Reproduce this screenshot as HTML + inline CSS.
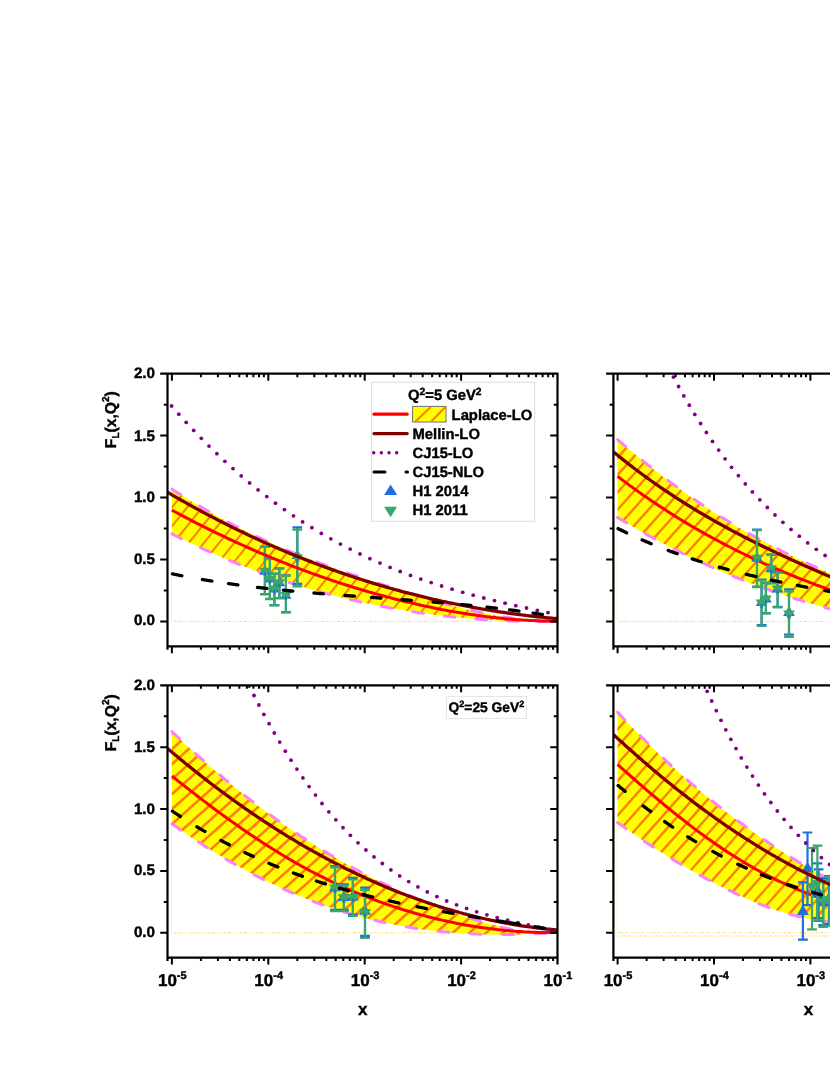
<!DOCTYPE html>
<html><head><meta charset="utf-8"><title>FL</title>
<style>html,body{margin:0;padding:0;background:#fff;}body{width:830px;height:1075px;overflow:hidden;}svg{display:block;will-change:transform;}text{text-rendering:geometricPrecision;font-family:"Liberation Sans", sans-serif;font-weight:bold;fill:#000;stroke:#000;stroke-width:0.4px;}</style>
</head><body>
<svg width="830" height="1075" viewBox="0 0 830 1075">
<defs>
<clipPath id="cp00"><rect x="167.5" y="373.7" width="390.0" height="272.6"/></clipPath>
<clipPath id="cp01"><rect x="167.5" y="685.3" width="390.0" height="272.3"/></clipPath>
<clipPath id="cp10"><rect x="613.4" y="373.7" width="389.8" height="272.6"/></clipPath>
<clipPath id="cp11"><rect x="613.4" y="685.3" width="389.8" height="272.3"/></clipPath>
</defs>
<rect width="830" height="1075" fill="#fff"/>
<g clip-path="url(#cp00)">
<path d="M171.5 533.9 V621.4 H557.5" fill="none" stroke="#fff5b8" stroke-width="1"/>
<path d="M174.9 621.4 H557.5" fill="none" stroke="#ffb060" stroke-width="1" stroke-dasharray="1.2 3.6 1.2 10.3" stroke-opacity="0.8"/>
<clipPath id="band00"><path d="M171.9 489.1 L173.9 490.4 L175.9 491.7 L177.9 492.9 L179.9 494.2 L181.9 495.5 L184.0 496.7 L186.0 498.0 L188.0 499.2 L190.0 500.4 L192.0 501.7 L194.0 502.9 L196.0 504.1 L198.0 505.3 L200.0 506.4 L202.0 507.6 L204.0 508.8 L206.0 509.9 L208.1 511.1 L210.1 512.2 L212.1 513.4 L214.1 514.5 L216.1 515.6 L218.1 516.7 L220.1 517.8 L222.1 518.9 L224.1 520.0 L226.1 521.1 L228.1 522.1 L230.1 523.2 L232.2 524.2 L234.2 525.3 L236.2 526.3 L238.2 527.3 L240.2 528.4 L242.2 529.4 L244.2 530.4 L246.2 531.4 L248.2 532.4 L250.2 533.3 L252.2 534.3 L254.2 535.3 L256.2 536.2 L258.3 537.2 L260.3 538.1 L262.3 539.1 L264.3 540.0 L266.3 540.9 L268.3 541.8 L270.3 542.7 L272.3 543.6 L274.3 544.5 L276.3 545.4 L278.3 546.3 L280.4 547.2 L282.4 548.0 L284.4 548.9 L286.4 549.8 L288.4 550.6 L290.4 551.4 L292.4 552.3 L294.4 553.1 L296.4 553.9 L298.4 554.7 L300.4 555.5 L302.4 556.3 L304.5 557.1 L306.5 557.9 L308.5 558.7 L310.5 559.5 L312.5 560.3 L314.5 561.0 L316.5 561.8 L318.5 562.5 L320.5 563.3 L322.5 564.0 L324.5 564.8 L326.5 565.5 L328.6 566.2 L330.6 567.0 L332.6 567.7 L334.6 568.4 L336.6 569.1 L338.6 569.8 L340.6 570.5 L342.6 571.2 L344.6 571.9 L346.6 572.6 L348.6 573.3 L350.6 574.0 L352.6 574.7 L354.7 575.3 L356.7 576.0 L358.7 576.7 L360.7 577.4 L362.7 578.0 L364.7 578.7 L366.7 579.4 L368.7 580.0 L370.7 580.7 L372.7 581.3 L374.7 582.0 L376.8 582.7 L378.8 583.3 L380.8 584.0 L382.8 584.6 L384.8 585.3 L386.8 585.9 L388.8 586.6 L390.8 587.2 L392.8 587.9 L394.8 588.5 L396.8 589.2 L398.8 589.8 L400.9 590.4 L402.9 591.1 L404.9 591.7 L406.9 592.3 L408.9 593.0 L410.9 593.6 L412.9 594.2 L414.9 594.8 L416.9 595.5 L418.9 596.1 L420.9 596.7 L422.9 597.3 L424.9 597.9 L427.0 598.5 L429.0 599.1 L431.0 599.7 L433.0 600.3 L435.0 600.8 L437.0 601.4 L439.0 602.0 L441.0 602.6 L443.0 603.1 L445.0 603.7 L447.0 604.2 L449.0 604.8 L451.1 605.3 L453.1 605.9 L455.1 606.4 L457.1 606.9 L459.1 607.4 L461.1 607.9 L463.1 608.4 L465.1 608.9 L467.1 609.4 L469.1 609.9 L471.1 610.4 L473.1 610.8 L475.2 611.3 L477.2 611.8 L479.2 612.2 L481.2 612.6 L483.2 613.1 L485.2 613.5 L487.2 613.9 L489.2 614.3 L491.2 614.7 L493.2 615.1 L495.2 615.4 L497.2 615.8 L499.3 616.2 L501.3 616.5 L503.3 616.9 L505.3 617.2 L507.3 617.5 L509.3 617.8 L511.3 618.1 L513.3 618.4 L515.3 618.7 L517.3 618.9 L519.3 619.2 L521.4 619.4 L523.4 619.7 L525.4 619.9 L527.4 620.1 L529.4 620.3 L531.4 620.5 L533.4 620.7 L535.4 620.8 L537.4 621.0 L539.4 621.1 L541.4 621.3 L543.4 621.4 L545.5 621.5 L547.5 621.6 L549.5 621.6 L551.5 621.7 L553.5 621.7 L555.5 621.8 L557.5 621.8 L557.5 621.4 L555.5 621.4 L553.5 621.4 L551.5 621.5 L549.5 621.5 L547.5 621.5 L545.5 621.5 L543.4 621.5 L541.4 621.5 L539.4 621.5 L537.4 621.5 L535.4 621.5 L533.4 621.5 L531.4 621.5 L529.4 621.5 L527.4 621.4 L525.4 621.4 L523.4 621.4 L521.4 621.3 L519.3 621.3 L517.3 621.2 L515.3 621.2 L513.3 621.1 L511.3 621.0 L509.3 621.0 L507.3 620.9 L505.3 620.8 L503.3 620.7 L501.3 620.6 L499.3 620.5 L497.2 620.4 L495.2 620.3 L493.2 620.2 L491.2 620.1 L489.2 620.0 L487.2 619.8 L485.2 619.7 L483.2 619.6 L481.2 619.4 L479.2 619.3 L477.2 619.2 L475.2 619.0 L473.1 618.8 L471.1 618.7 L469.1 618.5 L467.1 618.3 L465.1 618.2 L463.1 618.0 L461.1 617.8 L459.1 617.6 L457.1 617.4 L455.1 617.2 L453.1 617.0 L451.1 616.8 L449.0 616.5 L447.0 616.3 L445.0 616.1 L443.0 615.9 L441.0 615.6 L439.0 615.4 L437.0 615.1 L435.0 614.9 L433.0 614.6 L431.0 614.4 L429.0 614.1 L427.0 613.8 L424.9 613.5 L422.9 613.3 L420.9 613.0 L418.9 612.7 L416.9 612.4 L414.9 612.1 L412.9 611.8 L410.9 611.4 L408.9 611.1 L406.9 610.8 L404.9 610.5 L402.9 610.1 L400.9 609.8 L398.8 609.5 L396.8 609.1 L394.8 608.8 L392.8 608.4 L390.8 608.0 L388.8 607.7 L386.8 607.3 L384.8 606.9 L382.8 606.5 L380.8 606.1 L378.8 605.7 L376.8 605.3 L374.7 604.9 L372.7 604.5 L370.7 604.1 L368.7 603.7 L366.7 603.3 L364.7 602.8 L362.7 602.4 L360.7 602.0 L358.7 601.5 L356.7 601.0 L354.7 600.6 L352.6 600.1 L350.6 599.7 L348.6 599.2 L346.6 598.7 L344.6 598.2 L342.6 597.7 L340.6 597.2 L338.6 596.7 L336.6 596.2 L334.6 595.7 L332.6 595.2 L330.6 594.7 L328.6 594.1 L326.5 593.6 L324.5 593.0 L322.5 592.5 L320.5 591.9 L318.5 591.4 L316.5 590.8 L314.5 590.2 L312.5 589.7 L310.5 589.1 L308.5 588.5 L306.5 587.9 L304.5 587.3 L302.4 586.7 L300.4 586.1 L298.4 585.4 L296.4 584.8 L294.4 584.2 L292.4 583.5 L290.4 582.9 L288.4 582.2 L286.4 581.6 L284.4 580.9 L282.4 580.3 L280.4 579.6 L278.3 578.9 L276.3 578.2 L274.3 577.5 L272.3 576.8 L270.3 576.1 L268.3 575.4 L266.3 574.7 L264.3 574.0 L262.3 573.2 L260.3 572.5 L258.3 571.7 L256.2 571.0 L254.2 570.2 L252.2 569.5 L250.2 568.7 L248.2 567.9 L246.2 567.1 L244.2 566.4 L242.2 565.6 L240.2 564.8 L238.2 564.0 L236.2 563.1 L234.2 562.3 L232.2 561.5 L230.1 560.7 L228.1 559.8 L226.1 559.0 L224.1 558.1 L222.1 557.3 L220.1 556.4 L218.1 555.5 L216.1 554.7 L214.1 553.8 L212.1 552.9 L210.1 552.0 L208.1 551.1 L206.0 550.2 L204.0 549.3 L202.0 548.4 L200.0 547.5 L198.0 546.5 L196.0 545.6 L194.0 544.6 L192.0 543.7 L190.0 542.7 L188.0 541.8 L186.0 540.8 L184.0 539.9 L181.9 538.9 L179.9 537.9 L177.9 536.9 L175.9 535.9 L173.9 534.9 L171.9 533.9 Z"/></clipPath>
<path d="M171.9 489.1 L173.9 490.4 L175.9 491.7 L177.9 492.9 L179.9 494.2 L181.9 495.5 L184.0 496.7 L186.0 498.0 L188.0 499.2 L190.0 500.4 L192.0 501.7 L194.0 502.9 L196.0 504.1 L198.0 505.3 L200.0 506.4 L202.0 507.6 L204.0 508.8 L206.0 509.9 L208.1 511.1 L210.1 512.2 L212.1 513.4 L214.1 514.5 L216.1 515.6 L218.1 516.7 L220.1 517.8 L222.1 518.9 L224.1 520.0 L226.1 521.1 L228.1 522.1 L230.1 523.2 L232.2 524.2 L234.2 525.3 L236.2 526.3 L238.2 527.3 L240.2 528.4 L242.2 529.4 L244.2 530.4 L246.2 531.4 L248.2 532.4 L250.2 533.3 L252.2 534.3 L254.2 535.3 L256.2 536.2 L258.3 537.2 L260.3 538.1 L262.3 539.1 L264.3 540.0 L266.3 540.9 L268.3 541.8 L270.3 542.7 L272.3 543.6 L274.3 544.5 L276.3 545.4 L278.3 546.3 L280.4 547.2 L282.4 548.0 L284.4 548.9 L286.4 549.8 L288.4 550.6 L290.4 551.4 L292.4 552.3 L294.4 553.1 L296.4 553.9 L298.4 554.7 L300.4 555.5 L302.4 556.3 L304.5 557.1 L306.5 557.9 L308.5 558.7 L310.5 559.5 L312.5 560.3 L314.5 561.0 L316.5 561.8 L318.5 562.5 L320.5 563.3 L322.5 564.0 L324.5 564.8 L326.5 565.5 L328.6 566.2 L330.6 567.0 L332.6 567.7 L334.6 568.4 L336.6 569.1 L338.6 569.8 L340.6 570.5 L342.6 571.2 L344.6 571.9 L346.6 572.6 L348.6 573.3 L350.6 574.0 L352.6 574.7 L354.7 575.3 L356.7 576.0 L358.7 576.7 L360.7 577.4 L362.7 578.0 L364.7 578.7 L366.7 579.4 L368.7 580.0 L370.7 580.7 L372.7 581.3 L374.7 582.0 L376.8 582.7 L378.8 583.3 L380.8 584.0 L382.8 584.6 L384.8 585.3 L386.8 585.9 L388.8 586.6 L390.8 587.2 L392.8 587.9 L394.8 588.5 L396.8 589.2 L398.8 589.8 L400.9 590.4 L402.9 591.1 L404.9 591.7 L406.9 592.3 L408.9 593.0 L410.9 593.6 L412.9 594.2 L414.9 594.8 L416.9 595.5 L418.9 596.1 L420.9 596.7 L422.9 597.3 L424.9 597.9 L427.0 598.5 L429.0 599.1 L431.0 599.7 L433.0 600.3 L435.0 600.8 L437.0 601.4 L439.0 602.0 L441.0 602.6 L443.0 603.1 L445.0 603.7 L447.0 604.2 L449.0 604.8 L451.1 605.3 L453.1 605.9 L455.1 606.4 L457.1 606.9 L459.1 607.4 L461.1 607.9 L463.1 608.4 L465.1 608.9 L467.1 609.4 L469.1 609.9 L471.1 610.4 L473.1 610.8 L475.2 611.3 L477.2 611.8 L479.2 612.2 L481.2 612.6 L483.2 613.1 L485.2 613.5 L487.2 613.9 L489.2 614.3 L491.2 614.7 L493.2 615.1 L495.2 615.4 L497.2 615.8 L499.3 616.2 L501.3 616.5 L503.3 616.9 L505.3 617.2 L507.3 617.5 L509.3 617.8 L511.3 618.1 L513.3 618.4 L515.3 618.7 L517.3 618.9 L519.3 619.2 L521.4 619.4 L523.4 619.7 L525.4 619.9 L527.4 620.1 L529.4 620.3 L531.4 620.5 L533.4 620.7 L535.4 620.8 L537.4 621.0 L539.4 621.1 L541.4 621.3 L543.4 621.4 L545.5 621.5 L547.5 621.6 L549.5 621.6 L551.5 621.7 L553.5 621.7 L555.5 621.8 L557.5 621.8 L557.5 621.4 L555.5 621.4 L553.5 621.4 L551.5 621.5 L549.5 621.5 L547.5 621.5 L545.5 621.5 L543.4 621.5 L541.4 621.5 L539.4 621.5 L537.4 621.5 L535.4 621.5 L533.4 621.5 L531.4 621.5 L529.4 621.5 L527.4 621.4 L525.4 621.4 L523.4 621.4 L521.4 621.3 L519.3 621.3 L517.3 621.2 L515.3 621.2 L513.3 621.1 L511.3 621.0 L509.3 621.0 L507.3 620.9 L505.3 620.8 L503.3 620.7 L501.3 620.6 L499.3 620.5 L497.2 620.4 L495.2 620.3 L493.2 620.2 L491.2 620.1 L489.2 620.0 L487.2 619.8 L485.2 619.7 L483.2 619.6 L481.2 619.4 L479.2 619.3 L477.2 619.2 L475.2 619.0 L473.1 618.8 L471.1 618.7 L469.1 618.5 L467.1 618.3 L465.1 618.2 L463.1 618.0 L461.1 617.8 L459.1 617.6 L457.1 617.4 L455.1 617.2 L453.1 617.0 L451.1 616.8 L449.0 616.5 L447.0 616.3 L445.0 616.1 L443.0 615.9 L441.0 615.6 L439.0 615.4 L437.0 615.1 L435.0 614.9 L433.0 614.6 L431.0 614.4 L429.0 614.1 L427.0 613.8 L424.9 613.5 L422.9 613.3 L420.9 613.0 L418.9 612.7 L416.9 612.4 L414.9 612.1 L412.9 611.8 L410.9 611.4 L408.9 611.1 L406.9 610.8 L404.9 610.5 L402.9 610.1 L400.9 609.8 L398.8 609.5 L396.8 609.1 L394.8 608.8 L392.8 608.4 L390.8 608.0 L388.8 607.7 L386.8 607.3 L384.8 606.9 L382.8 606.5 L380.8 606.1 L378.8 605.7 L376.8 605.3 L374.7 604.9 L372.7 604.5 L370.7 604.1 L368.7 603.7 L366.7 603.3 L364.7 602.8 L362.7 602.4 L360.7 602.0 L358.7 601.5 L356.7 601.0 L354.7 600.6 L352.6 600.1 L350.6 599.7 L348.6 599.2 L346.6 598.7 L344.6 598.2 L342.6 597.7 L340.6 597.2 L338.6 596.7 L336.6 596.2 L334.6 595.7 L332.6 595.2 L330.6 594.7 L328.6 594.1 L326.5 593.6 L324.5 593.0 L322.5 592.5 L320.5 591.9 L318.5 591.4 L316.5 590.8 L314.5 590.2 L312.5 589.7 L310.5 589.1 L308.5 588.5 L306.5 587.9 L304.5 587.3 L302.4 586.7 L300.4 586.1 L298.4 585.4 L296.4 584.8 L294.4 584.2 L292.4 583.5 L290.4 582.9 L288.4 582.2 L286.4 581.6 L284.4 580.9 L282.4 580.3 L280.4 579.6 L278.3 578.9 L276.3 578.2 L274.3 577.5 L272.3 576.8 L270.3 576.1 L268.3 575.4 L266.3 574.7 L264.3 574.0 L262.3 573.2 L260.3 572.5 L258.3 571.7 L256.2 571.0 L254.2 570.2 L252.2 569.5 L250.2 568.7 L248.2 567.9 L246.2 567.1 L244.2 566.4 L242.2 565.6 L240.2 564.8 L238.2 564.0 L236.2 563.1 L234.2 562.3 L232.2 561.5 L230.1 560.7 L228.1 559.8 L226.1 559.0 L224.1 558.1 L222.1 557.3 L220.1 556.4 L218.1 555.5 L216.1 554.7 L214.1 553.8 L212.1 552.9 L210.1 552.0 L208.1 551.1 L206.0 550.2 L204.0 549.3 L202.0 548.4 L200.0 547.5 L198.0 546.5 L196.0 545.6 L194.0 544.6 L192.0 543.7 L190.0 542.7 L188.0 541.8 L186.0 540.8 L184.0 539.9 L181.9 538.9 L179.9 537.9 L177.9 536.9 L175.9 535.9 L173.9 534.9 L171.9 533.9 Z" fill="#ffff00"/>
<path d="M162.5 387.5 L562.5 -108.5 M162.5 406.3 L562.5 -89.7 M162.5 425.1 L562.5 -70.9 M162.5 443.9 L562.5 -52.1 M162.5 462.7 L562.5 -33.3 M162.5 481.5 L562.5 -14.5 M162.5 500.3 L562.5 4.3 M162.5 519.1 L562.5 23.1 M162.5 537.9 L562.5 41.9 M162.5 556.7 L562.5 60.7 M162.5 575.5 L562.5 79.5 M162.5 594.3 L562.5 98.3 M162.5 613.1 L562.5 117.1 M162.5 631.9 L562.5 135.9 M162.5 650.7 L562.5 154.7 M162.5 669.5 L562.5 173.5 M162.5 688.3 L562.5 192.3 M162.5 707.1 L562.5 211.1 M162.5 725.9 L562.5 229.9 M162.5 744.7 L562.5 248.7 M162.5 763.5 L562.5 267.5 M162.5 782.3 L562.5 286.3 M162.5 801.1 L562.5 305.1 M162.5 819.9 L562.5 323.9 M162.5 838.7 L562.5 342.7 M162.5 857.5 L562.5 361.5 M162.5 876.3 L562.5 380.3 M162.5 895.1 L562.5 399.1 M162.5 913.9 L562.5 417.9 M162.5 932.7 L562.5 436.7 M162.5 951.5 L562.5 455.5 M162.5 970.3 L562.5 474.3 M162.5 989.1 L562.5 493.1 M162.5 1007.9 L562.5 511.9 M162.5 1026.7 L562.5 530.7 M162.5 1045.5 L562.5 549.5 M162.5 1064.3 L562.5 568.3 M162.5 1083.1 L562.5 587.1 M162.5 1101.9 L562.5 605.9 M162.5 1120.7 L562.5 624.7 M162.5 1139.5 L562.5 643.5" stroke="#ff8000" stroke-width="2.0" fill="none" clip-path="url(#band00)"/>
<path d="M171.9 489.1 L173.9 490.4 L175.9 491.7 L177.9 492.9 L179.9 494.2 L181.9 495.5 L184.0 496.7 L186.0 498.0 L188.0 499.2 L190.0 500.4 L192.0 501.7 L194.0 502.9 L196.0 504.1 L198.0 505.3 L200.0 506.4 L202.0 507.6 L204.0 508.8 L206.0 509.9 L208.1 511.1 L210.1 512.2 L212.1 513.4 L214.1 514.5 L216.1 515.6 L218.1 516.7 L220.1 517.8 L222.1 518.9 L224.1 520.0 L226.1 521.1 L228.1 522.1 L230.1 523.2 L232.2 524.2 L234.2 525.3 L236.2 526.3 L238.2 527.3 L240.2 528.4 L242.2 529.4 L244.2 530.4 L246.2 531.4 L248.2 532.4 L250.2 533.3 L252.2 534.3 L254.2 535.3 L256.2 536.2 L258.3 537.2 L260.3 538.1 L262.3 539.1 L264.3 540.0 L266.3 540.9 L268.3 541.8 L270.3 542.7 L272.3 543.6 L274.3 544.5 L276.3 545.4 L278.3 546.3 L280.4 547.2 L282.4 548.0 L284.4 548.9 L286.4 549.8 L288.4 550.6 L290.4 551.4 L292.4 552.3 L294.4 553.1 L296.4 553.9 L298.4 554.7 L300.4 555.5 L302.4 556.3 L304.5 557.1 L306.5 557.9 L308.5 558.7 L310.5 559.5 L312.5 560.3 L314.5 561.0 L316.5 561.8 L318.5 562.5 L320.5 563.3 L322.5 564.0 L324.5 564.8 L326.5 565.5 L328.6 566.2 L330.6 567.0 L332.6 567.7 L334.6 568.4 L336.6 569.1 L338.6 569.8 L340.6 570.5 L342.6 571.2 L344.6 571.9 L346.6 572.6 L348.6 573.3 L350.6 574.0 L352.6 574.7 L354.7 575.3 L356.7 576.0 L358.7 576.7 L360.7 577.4 L362.7 578.0 L364.7 578.7 L366.7 579.4 L368.7 580.0 L370.7 580.7 L372.7 581.3 L374.7 582.0 L376.8 582.7 L378.8 583.3 L380.8 584.0 L382.8 584.6 L384.8 585.3 L386.8 585.9 L388.8 586.6 L390.8 587.2 L392.8 587.9 L394.8 588.5 L396.8 589.2 L398.8 589.8 L400.9 590.4 L402.9 591.1 L404.9 591.7 L406.9 592.3 L408.9 593.0 L410.9 593.6 L412.9 594.2 L414.9 594.8 L416.9 595.5 L418.9 596.1 L420.9 596.7 L422.9 597.3 L424.9 597.9 L427.0 598.5 L429.0 599.1 L431.0 599.7 L433.0 600.3 L435.0 600.8 L437.0 601.4 L439.0 602.0 L441.0 602.6 L443.0 603.1 L445.0 603.7 L447.0 604.2 L449.0 604.8 L451.1 605.3 L453.1 605.9 L455.1 606.4 L457.1 606.9 L459.1 607.4 L461.1 607.9 L463.1 608.4 L465.1 608.9 L467.1 609.4 L469.1 609.9 L471.1 610.4 L473.1 610.8 L475.2 611.3 L477.2 611.8 L479.2 612.2 L481.2 612.6 L483.2 613.1 L485.2 613.5 L487.2 613.9 L489.2 614.3 L491.2 614.7 L493.2 615.1 L495.2 615.4 L497.2 615.8 L499.3 616.2 L501.3 616.5 L503.3 616.9 L505.3 617.2 L507.3 617.5 L509.3 617.8 L511.3 618.1 L513.3 618.4 L515.3 618.7 L517.3 618.9 L519.3 619.2 L521.4 619.4 L523.4 619.7 L525.4 619.9 L527.4 620.1 L529.4 620.3 L531.4 620.5 L533.4 620.7 L535.4 620.8 L537.4 621.0 L539.4 621.1 L541.4 621.3 L543.4 621.4 L545.5 621.5 L547.5 621.6 L549.5 621.6 L551.5 621.7 L553.5 621.7 L555.5 621.8 L557.5 621.8" fill="none" stroke="#ff80ff" stroke-width="3.0" stroke-dasharray="10.6 21.9" stroke-linecap="round"/>
<path d="M171.9 533.9 L173.9 534.9 L175.9 535.9 L177.9 536.9 L179.9 537.9 L181.9 538.9 L184.0 539.9 L186.0 540.8 L188.0 541.8 L190.0 542.7 L192.0 543.7 L194.0 544.6 L196.0 545.6 L198.0 546.5 L200.0 547.5 L202.0 548.4 L204.0 549.3 L206.0 550.2 L208.1 551.1 L210.1 552.0 L212.1 552.9 L214.1 553.8 L216.1 554.7 L218.1 555.5 L220.1 556.4 L222.1 557.3 L224.1 558.1 L226.1 559.0 L228.1 559.8 L230.1 560.7 L232.2 561.5 L234.2 562.3 L236.2 563.1 L238.2 564.0 L240.2 564.8 L242.2 565.6 L244.2 566.4 L246.2 567.1 L248.2 567.9 L250.2 568.7 L252.2 569.5 L254.2 570.2 L256.2 571.0 L258.3 571.7 L260.3 572.5 L262.3 573.2 L264.3 574.0 L266.3 574.7 L268.3 575.4 L270.3 576.1 L272.3 576.8 L274.3 577.5 L276.3 578.2 L278.3 578.9 L280.4 579.6 L282.4 580.3 L284.4 580.9 L286.4 581.6 L288.4 582.2 L290.4 582.9 L292.4 583.5 L294.4 584.2 L296.4 584.8 L298.4 585.4 L300.4 586.1 L302.4 586.7 L304.5 587.3 L306.5 587.9 L308.5 588.5 L310.5 589.1 L312.5 589.7 L314.5 590.2 L316.5 590.8 L318.5 591.4 L320.5 591.9 L322.5 592.5 L324.5 593.0 L326.5 593.6 L328.6 594.1 L330.6 594.7 L332.6 595.2 L334.6 595.7 L336.6 596.2 L338.6 596.7 L340.6 597.2 L342.6 597.7 L344.6 598.2 L346.6 598.7 L348.6 599.2 L350.6 599.7 L352.6 600.1 L354.7 600.6 L356.7 601.0 L358.7 601.5 L360.7 602.0 L362.7 602.4 L364.7 602.8 L366.7 603.3 L368.7 603.7 L370.7 604.1 L372.7 604.5 L374.7 604.9 L376.8 605.3 L378.8 605.7 L380.8 606.1 L382.8 606.5 L384.8 606.9 L386.8 607.3 L388.8 607.7 L390.8 608.0 L392.8 608.4 L394.8 608.8 L396.8 609.1 L398.8 609.5 L400.9 609.8 L402.9 610.1 L404.9 610.5 L406.9 610.8 L408.9 611.1 L410.9 611.4 L412.9 611.8 L414.9 612.1 L416.9 612.4 L418.9 612.7 L420.9 613.0 L422.9 613.3 L424.9 613.5 L427.0 613.8 L429.0 614.1 L431.0 614.4 L433.0 614.6 L435.0 614.9 L437.0 615.1 L439.0 615.4 L441.0 615.6 L443.0 615.9 L445.0 616.1 L447.0 616.3 L449.0 616.5 L451.1 616.8 L453.1 617.0 L455.1 617.2 L457.1 617.4 L459.1 617.6 L461.1 617.8 L463.1 618.0 L465.1 618.2 L467.1 618.3 L469.1 618.5 L471.1 618.7 L473.1 618.8 L475.2 619.0 L477.2 619.2 L479.2 619.3 L481.2 619.4 L483.2 619.6 L485.2 619.7 L487.2 619.8 L489.2 620.0 L491.2 620.1 L493.2 620.2 L495.2 620.3 L497.2 620.4 L499.3 620.5 L501.3 620.6 L503.3 620.7 L505.3 620.8 L507.3 620.9 L509.3 621.0 L511.3 621.0 L513.3 621.1 L515.3 621.2 L517.3 621.2 L519.3 621.3 L521.4 621.3 L523.4 621.4 L525.4 621.4 L527.4 621.4 L529.4 621.5 L531.4 621.5 L533.4 621.5 L535.4 621.5 L537.4 621.5 L539.4 621.5 L541.4 621.5 L543.4 621.5 L545.5 621.5 L547.5 621.5 L549.5 621.5 L551.5 621.5 L553.5 621.4 L555.5 621.4 L557.5 621.4" fill="none" stroke="#ff80ff" stroke-width="3.0" stroke-dasharray="10.6 21.2" stroke-linecap="round"/>
</g>
<path d="M264.9 546.6 V594.0 M260.0 546.6 h9.8 M260.0 594.0 h9.8" stroke="#1f6fe0" stroke-width="2.2" fill="none"/><path d="M269.9 558.4 V598.9 M265.0 558.4 h9.8 M265.0 598.9 h9.8" stroke="#1f6fe0" stroke-width="2.2" fill="none"/><path d="M274.4 573.5 V605.1 M269.5 573.5 h9.8 M269.5 605.1 h9.8" stroke="#1f6fe0" stroke-width="2.2" fill="none"/><path d="M279.4 568.3 V598.0 M274.5 568.3 h9.8 M274.5 598.0 h9.8" stroke="#1f6fe0" stroke-width="2.2" fill="none"/><path d="M285.9 575.4 V612.2 M281.0 575.4 h9.8 M281.0 612.2 h9.8" stroke="#1f6fe0" stroke-width="2.2" fill="none"/><path d="M297.3 527.3 V583.9 M292.4 527.3 h9.8 M292.4 583.9 h9.8" stroke="#1f6fe0" stroke-width="2.2" fill="none"/><path d="M259.3 574.7 L270.5 574.7 L264.9 565.1 Z" fill="#1f6fe0"/><path d="M264.3 582.6 L275.5 582.6 L269.9 573.0 Z" fill="#1f6fe0"/><path d="M268.8 592.5 L280.0 592.5 L274.4 582.9 Z" fill="#1f6fe0"/><path d="M273.8 586.2 L285.0 586.2 L279.4 576.6 Z" fill="#1f6fe0"/><path d="M280.3 598.8 L291.5 598.8 L285.9 589.2 Z" fill="#1f6fe0"/><path d="M291.7 559.1 L302.9 559.1 L297.3 549.5 Z" fill="#1f6fe0"/>
<path d="M264.9 546.9 V594.3 M260.0 546.9 h9.8 M260.0 594.3 h9.8" stroke="#3aa868" stroke-width="2.2" fill="none"/><path d="M269.9 558.7 V599.2 M265.0 558.7 h9.8 M265.0 599.2 h9.8" stroke="#3aa868" stroke-width="2.2" fill="none"/><path d="M274.4 573.8 V605.4 M269.5 573.8 h9.8 M269.5 605.4 h9.8" stroke="#3aa868" stroke-width="2.2" fill="none"/><path d="M279.4 568.6 V598.3 M274.5 568.6 h9.8 M274.5 598.3 h9.8" stroke="#3aa868" stroke-width="2.2" fill="none"/><path d="M285.9 575.7 V612.5 M281.0 575.7 h9.8 M281.0 612.5 h9.8" stroke="#3aa868" stroke-width="2.2" fill="none"/><path d="M297.3 529.7 V586.3 M292.4 529.7 h9.8 M292.4 586.3 h9.8" stroke="#3aa868" stroke-width="2.2" fill="none"/><path d="M259.3 567.8 L270.5 567.8 L264.9 577.4 Z" fill="#3aa868"/><path d="M264.3 575.7 L275.5 575.7 L269.9 585.3 Z" fill="#3aa868"/><path d="M268.8 585.6 L280.0 585.6 L274.4 595.2 Z" fill="#3aa868"/><path d="M273.8 579.3 L285.0 579.3 L279.4 588.9 Z" fill="#3aa868"/><path d="M280.3 591.9 L291.5 591.9 L285.9 601.5 Z" fill="#3aa868"/><path d="M291.7 554.3 L302.9 554.3 L297.3 563.9 Z" fill="#3aa868"/>
<path d="M264.9 572.2 v3.6 M269.9 580.1 v3.6 M274.4 590.0 v3.6 M279.4 583.7 v3.6 M285.9 596.3 v3.6 M297.3 558.7 v3.6" stroke="#1f6fe0" stroke-width="1.8" fill="none"/>
<g clip-path="url(#cp00)">
<path d="M171.9 510.1 L173.9 511.2 L175.9 512.3 L177.9 513.4 L179.9 514.4 L181.9 515.5 L184.0 516.6 L186.0 517.6 L188.0 518.7 L190.0 519.7 L192.0 520.8 L194.0 521.8 L196.0 522.8 L198.0 523.8 L200.0 524.9 L202.0 525.9 L204.0 526.9 L206.1 527.9 L208.1 528.9 L210.1 529.9 L212.1 530.9 L214.1 531.8 L216.1 532.8 L218.1 533.8 L220.1 534.7 L222.1 535.7 L224.1 536.7 L226.1 537.6 L228.1 538.6 L230.2 539.5 L232.2 540.4 L234.2 541.4 L236.2 542.3 L238.2 543.2 L240.2 544.1 L242.2 545.0 L244.2 545.9 L246.2 546.8 L248.2 547.7 L250.2 548.6 L252.3 549.5 L254.3 550.4 L256.3 551.3 L258.3 552.1 L260.3 553.0 L262.3 553.8 L264.3 554.7 L266.3 555.5 L268.3 556.4 L270.3 557.2 L272.3 558.1 L274.4 558.9 L276.4 559.7 L278.4 560.5 L280.4 561.3 L282.4 562.1 L284.4 562.9 L286.4 563.7 L288.4 564.5 L290.4 565.3 L292.4 566.1 L294.4 566.9 L296.4 567.6 L298.5 568.4 L300.5 569.1 L302.5 569.9 L304.5 570.7 L306.5 571.4 L308.5 572.1 L310.5 572.9 L312.5 573.6 L314.5 574.3 L316.5 575.0 L318.5 575.7 L320.6 576.5 L322.6 577.2 L324.6 577.9 L326.6 578.5 L328.6 579.2 L330.6 579.9 L332.6 580.6 L334.6 581.3 L336.6 581.9 L338.6 582.6 L340.6 583.2 L342.7 583.9 L344.7 584.5 L346.7 585.2 L348.7 585.8 L350.7 586.4 L352.7 587.1 L354.7 587.7 L356.7 588.3 L358.7 588.9 L360.7 589.5 L362.7 590.1 L364.8 590.7 L366.8 591.3 L368.8 591.9 L370.8 592.4 L372.8 593.0 L374.8 593.6 L376.8 594.1 L378.8 594.7 L380.8 595.3 L382.8 595.8 L384.8 596.3 L386.8 596.9 L388.9 597.4 L390.9 597.9 L392.9 598.5 L394.9 599.0 L396.9 599.5 L398.9 600.0 L400.9 600.5 L402.9 601.0 L404.9 601.5 L406.9 602.0 L408.9 602.4 L411.0 602.9 L413.0 603.4 L415.0 603.8 L417.0 604.3 L419.0 604.7 L421.0 605.2 L423.0 605.6 L425.0 606.1 L427.0 606.5 L429.0 606.9 L431.0 607.3 L433.1 607.8 L435.1 608.2 L437.1 608.6 L439.1 609.0 L441.1 609.4 L443.1 609.7 L445.1 610.1 L447.1 610.5 L449.1 610.9 L451.1 611.2 L453.1 611.6 L455.1 611.9 L457.2 612.3 L459.2 612.6 L461.2 612.9 L463.2 613.3 L465.2 613.6 L467.2 613.9 L469.2 614.2 L471.2 614.5 L473.2 614.8 L475.2 615.1 L477.2 615.4 L479.3 615.7 L481.3 615.9 L483.3 616.2 L485.3 616.5 L487.3 616.7 L489.3 616.9 L491.3 617.2 L493.3 617.4 L495.3 617.6 L497.3 617.9 L499.3 618.1 L501.4 618.3 L503.4 618.5 L505.4 618.7 L507.4 618.9 L509.4 619.0 L511.4 619.2 L513.4 619.4 L515.4 619.5 L517.4 619.7 L519.4 619.8 L521.4 620.0 L523.4 620.1 L525.5 620.2 L527.5 620.3 L529.5 620.4 L531.5 620.5 L533.5 620.6 L535.5 620.7 L537.5 620.8 L539.5 620.9 L541.5 620.9 L543.5 621.0 L545.5 621.0 L547.6 621.1 L549.6 621.1 L551.6 621.2 L553.6 621.2 L555.6 621.2 L557.6 621.2" fill="none" stroke="#ff0000" stroke-width="3.0"/>
</g>
<g clip-path="url(#cp00)">
<path d="M167.2 492.1 L169.2 493.2 L171.2 494.4 L173.2 495.6 L175.2 496.7 L177.2 497.9 L179.2 499.0 L181.2 500.2 L183.2 501.3 L185.2 502.4 L187.2 503.5 L189.2 504.7 L191.2 505.8 L193.2 506.9 L195.2 508.0 L197.2 509.1 L199.2 510.1 L201.2 511.2 L203.2 512.3 L205.2 513.4 L207.2 514.4 L209.2 515.5 L211.2 516.5 L213.2 517.6 L215.2 518.6 L217.3 519.7 L219.3 520.7 L221.3 521.7 L223.3 522.7 L225.3 523.7 L227.3 524.7 L229.3 525.7 L231.3 526.7 L233.3 527.7 L235.3 528.7 L237.3 529.7 L239.3 530.7 L241.3 531.6 L243.3 532.6 L245.3 533.5 L247.3 534.5 L249.3 535.4 L251.3 536.4 L253.3 537.3 L255.3 538.2 L257.3 539.1 L259.3 540.1 L261.3 541.0 L263.3 541.9 L265.3 542.8 L267.3 543.7 L269.3 544.5 L271.3 545.4 L273.3 546.3 L275.3 547.2 L277.3 548.0 L279.3 548.9 L281.3 549.8 L283.3 550.6 L285.3 551.5 L287.3 552.3 L289.3 553.1 L291.3 553.9 L293.3 554.8 L295.3 555.6 L297.3 556.4 L299.3 557.2 L301.3 558.0 L303.3 558.8 L305.3 559.6 L307.3 560.4 L309.3 561.1 L311.3 561.9 L313.3 562.7 L315.4 563.5 L317.4 564.2 L319.4 565.0 L321.4 565.7 L323.4 566.4 L325.4 567.2 L327.4 567.9 L329.4 568.6 L331.4 569.4 L333.4 570.1 L335.4 570.8 L337.4 571.5 L339.4 572.2 L341.4 572.9 L343.4 573.6 L345.4 574.3 L347.4 574.9 L349.4 575.6 L351.4 576.3 L353.4 576.9 L355.4 577.6 L357.4 578.2 L359.4 578.9 L361.4 579.5 L363.4 580.2 L365.4 580.8 L367.4 581.4 L369.4 582.0 L371.4 582.7 L373.4 583.3 L375.4 583.9 L377.4 584.5 L379.4 585.1 L381.4 585.7 L383.4 586.2 L385.4 586.8 L387.4 587.4 L389.4 588.0 L391.4 588.5 L393.4 589.1 L395.4 589.7 L397.4 590.2 L399.4 590.7 L401.4 591.3 L403.4 591.8 L405.4 592.4 L407.4 592.9 L409.4 593.4 L411.5 593.9 L413.5 594.4 L415.5 594.9 L417.5 595.4 L419.5 595.9 L421.5 596.4 L423.5 596.9 L425.5 597.4 L427.5 597.9 L429.5 598.3 L431.5 598.8 L433.5 599.3 L435.5 599.7 L437.5 600.2 L439.5 600.6 L441.5 601.1 L443.5 601.5 L445.5 601.9 L447.5 602.4 L449.5 602.8 L451.5 603.2 L453.5 603.6 L455.5 604.0 L457.5 604.4 L459.5 604.8 L461.5 605.2 L463.5 605.6 L465.5 606.0 L467.5 606.4 L469.5 606.7 L471.5 607.1 L473.5 607.5 L475.5 607.8 L477.5 608.2 L479.5 608.5 L481.5 608.9 L483.5 609.2 L485.5 609.6 L487.5 609.9 L489.5 610.2 L491.5 610.6 L493.5 610.9 L495.5 611.2 L497.5 611.5 L499.5 611.8 L501.5 612.1 L503.5 612.4 L505.5 612.7 L507.5 613.0 L509.6 613.3 L511.6 613.5 L513.6 613.8 L515.6 614.1 L517.6 614.4 L519.6 614.6 L521.6 614.9 L523.6 615.1 L525.6 615.4 L527.6 615.6 L529.6 615.8 L531.6 616.1 L533.6 616.3 L535.6 616.5 L537.6 616.8 L539.6 617.0 L541.6 617.2 L543.6 617.4 L545.6 617.6 L547.6 617.8 L549.6 618.0 L551.6 618.2 L553.6 618.4 L555.6 618.5 L557.6 618.7" fill="none" stroke="#800000" stroke-width="3.3"/>
</g>
<g clip-path="url(#cp00)">
<g fill="#800080"><circle cx="171.6" cy="406.0" r="1.9"/><circle cx="178.8" cy="414.2" r="1.9"/><circle cx="186.2" cy="422.4" r="1.9"/><circle cx="193.7" cy="430.4" r="1.9"/><circle cx="201.3" cy="438.3" r="1.9"/><circle cx="209.0" cy="446.1" r="1.9"/><circle cx="216.9" cy="453.7" r="1.9"/><circle cx="224.9" cy="461.3" r="1.9"/><circle cx="233.0" cy="468.6" r="1.9"/><circle cx="241.2" cy="475.9" r="1.9"/><circle cx="249.6" cy="482.9" r="1.9"/><circle cx="258.1" cy="489.9" r="1.9"/><circle cx="266.8" cy="496.6" r="1.9"/><circle cx="275.5" cy="503.2" r="1.9"/><circle cx="284.4" cy="509.6" r="1.9"/><circle cx="293.5" cy="515.8" r="1.9"/><circle cx="302.6" cy="521.9" r="1.9"/><circle cx="311.9" cy="527.7" r="1.9"/><circle cx="321.3" cy="533.4" r="1.9"/><circle cx="330.8" cy="538.8" r="1.9"/><circle cx="340.4" cy="544.1" r="1.9"/><circle cx="350.2" cy="549.1" r="1.9"/><circle cx="360.0" cy="554.0" r="1.9"/><circle cx="369.9" cy="558.7" r="1.9"/><circle cx="380.0" cy="563.1" r="1.9"/><circle cx="390.1" cy="567.4" r="1.9"/><circle cx="400.2" cy="571.5" r="1.9"/><circle cx="410.5" cy="575.4" r="1.9"/><circle cx="420.8" cy="579.1" r="1.9"/><circle cx="431.2" cy="582.6" r="1.9"/><circle cx="441.6" cy="586.0" r="1.9"/><circle cx="452.1" cy="589.2" r="1.9"/><circle cx="462.7" cy="592.3" r="1.9"/><circle cx="473.2" cy="595.2" r="1.9"/><circle cx="483.8" cy="598.0" r="1.9"/><circle cx="494.5" cy="600.6" r="1.9"/><circle cx="505.1" cy="603.2" r="1.9"/><circle cx="515.8" cy="605.7" r="1.9"/><circle cx="526.5" cy="608.0" r="1.9"/><circle cx="537.3" cy="610.4" r="1.9"/><circle cx="548.0" cy="612.6" r="1.9"/></g>
<path d="M172.4 573.8 L172.9 573.9 L173.4 574.0 L173.9 574.2 L174.4 574.3 L174.9 574.4 L175.4 574.5 L175.9 574.6 L176.4 574.7 L176.9 574.8 L177.4 574.9 L177.9 575.0 L178.4 575.1 L178.9 575.2 L179.4 575.3 L179.9 575.4 L180.4 575.5 L180.9 575.6 L181.4 575.7 L181.9 575.8 M202.4 579.5 L202.9 579.6 L203.4 579.7 L203.9 579.8 L204.4 579.8 L204.9 579.9 L205.4 580.0 L205.9 580.1 L206.4 580.2 L206.9 580.3 L207.4 580.3 L207.9 580.4 L208.4 580.5 L208.9 580.6 L209.4 580.7 L209.9 580.7 L210.4 580.8 L210.9 580.9 L211.4 581.0 L211.9 581.1 M228.4 583.6 L228.9 583.6 L229.4 583.7 L229.9 583.8 L230.4 583.9 L230.9 583.9 L231.4 584.0 L231.9 584.1 L232.4 584.1 L232.9 584.2 L233.4 584.3 L233.9 584.3 L234.4 584.4 L234.9 584.5 L235.4 584.6 L235.9 584.6 L236.4 584.7 L236.9 584.8 L237.4 584.8 L237.9 584.9 M257.4 587.4 L257.9 587.4 L258.4 587.5 L258.9 587.5 L259.4 587.6 L259.9 587.6 L260.4 587.7 L260.9 587.8 L261.4 587.8 L261.9 587.9 L262.4 587.9 L262.9 588.0 L263.4 588.0 L263.9 588.1 L264.4 588.2 L264.9 588.2 L265.4 588.3 L265.9 588.3 L266.4 588.4 L266.9 588.4 M283.4 590.2 L283.9 590.2 L284.4 590.3 L284.9 590.3 L285.4 590.4 L285.9 590.4 L286.4 590.5 L286.9 590.5 L287.4 590.6 L287.9 590.6 L288.4 590.7 L288.9 590.7 L289.4 590.8 L289.9 590.8 L290.4 590.9 L290.9 590.9 L291.4 591.0 L291.9 591.0 L292.4 591.1 L292.9 591.1 M313.9 593.0 L314.4 593.0 L314.9 593.1 L315.4 593.1 L315.9 593.2 L316.4 593.2 L316.9 593.3 L317.4 593.3 L317.9 593.3 L318.4 593.4 L318.9 593.4 L319.4 593.5 L319.9 593.5 L320.4 593.5 L320.9 593.6 L321.4 593.6 L321.9 593.7 L322.4 593.7 L322.9 593.7 L323.4 593.8 M344.9 595.5 L345.4 595.5 L345.9 595.5 L346.4 595.6 L346.9 595.6 L347.4 595.7 L347.9 595.7 L348.4 595.7 L348.9 595.8 L349.4 595.8 L349.9 595.8 L350.4 595.9 L350.9 595.9 L351.4 596.0 L351.9 596.0 L352.4 596.0 L352.9 596.1 L353.4 596.1 L353.9 596.1 L354.4 596.2 M371.5 597.4 L372.0 597.4 L372.5 597.5 L373.0 597.5 L373.5 597.6 L374.0 597.6 L374.5 597.6 L375.0 597.7 L375.5 597.7 L376.0 597.7 L376.5 597.8 L377.0 597.8 L377.5 597.8 L378.0 597.9 L378.5 597.9 L379.0 597.9 L379.5 598.0 L380.0 598.0 L380.5 598.1 L381.0 598.1 M402.0 599.6 L402.5 599.7 L403.0 599.7 L403.5 599.7 L404.0 599.8 L404.5 599.8 L405.0 599.8 L405.5 599.9 L406.0 599.9 L406.5 600.0 L407.0 600.0 L407.5 600.0 L408.0 600.1 L408.5 600.1 L409.0 600.1 L409.5 600.2 L410.0 600.2 L410.5 600.3 L411.0 600.3 L411.5 600.3 M433.0 602.0 L433.5 602.1 L434.0 602.1 L434.5 602.1 L435.0 602.2 L435.5 602.2 L436.0 602.3 L436.5 602.3 L437.0 602.3 L437.5 602.4 L438.0 602.4 L438.5 602.5 L439.0 602.5 L439.5 602.6 L440.0 602.6 L440.5 602.6 L441.0 602.7 L441.5 602.7 L442.0 602.8 L442.5 602.8 M461.5 604.5 L462.0 604.6 L462.5 604.6 L463.0 604.7 L463.5 604.7 L464.0 604.8 L464.5 604.8 L465.0 604.9 L465.5 604.9 L466.0 605.0 L466.5 605.0 L467.0 605.1 L467.5 605.1 L468.0 605.2 L468.5 605.2 L469.0 605.2 L469.5 605.3 L470.0 605.3 L470.5 605.4 L471.0 605.4 M487.0 607.1 L487.5 607.2 L488.0 607.2 L488.5 607.3 L489.0 607.4 L489.5 607.4 L490.0 607.5 L490.5 607.5 L491.0 607.6 L491.5 607.6 L492.0 607.7 L492.5 607.8 L493.0 607.8 L493.5 607.9 L494.0 607.9 L494.5 608.0 L495.0 608.0 L495.5 608.1 L496.0 608.2 L496.5 608.2 M509.5 609.8 L510.0 609.9 L510.5 609.9 L511.0 610.0 L511.5 610.1 L512.0 610.1 L512.5 610.2 L513.0 610.3 L513.5 610.3 L514.0 610.4 L514.5 610.5 L515.0 610.5 L515.5 610.6 L516.0 610.7 L516.5 610.7 L517.0 610.8 L517.5 610.9 L518.0 610.9 L518.5 611.0 L519.0 611.1 M533.0 613.1 L533.5 613.2 L534.0 613.2 L534.5 613.3 L535.0 613.4 L535.5 613.5 L536.0 613.5 L536.5 613.6 L537.0 613.7 L537.5 613.8 L538.0 613.8 L538.5 613.9 L539.0 614.0 L539.5 614.1 L540.0 614.2 L540.5 614.2 L541.0 614.3 L541.5 614.4 L542.0 614.5 L542.5 614.5" fill="none" stroke="#000" stroke-width="3.3" stroke-linecap="round"/>
</g>
<g clip-path="url(#cp01)">
<path d="M171.5 823.8 V932.8 H557.5" fill="none" stroke="#fff5b8" stroke-width="1"/>
<path d="M174.9 932.8 H557.5" fill="none" stroke="#ffb060" stroke-width="1" stroke-dasharray="1.2 3.6 1.2 10.3" stroke-opacity="0.8"/>
<clipPath id="band01"><path d="M171.9 731.5 L173.9 733.4 L175.9 735.3 L177.9 737.2 L179.9 739.1 L181.9 741.0 L184.0 742.9 L186.0 744.8 L188.0 746.6 L190.0 748.5 L192.0 750.3 L194.0 752.2 L196.0 754.0 L198.0 755.8 L200.0 757.6 L202.0 759.4 L204.0 761.2 L206.0 763.0 L208.1 764.7 L210.1 766.5 L212.1 768.3 L214.1 770.0 L216.1 771.7 L218.1 773.4 L220.1 775.2 L222.1 776.9 L224.1 778.6 L226.1 780.2 L228.1 781.9 L230.1 783.6 L232.2 785.2 L234.2 786.9 L236.2 788.5 L238.2 790.1 L240.2 791.8 L242.2 793.4 L244.2 795.0 L246.2 796.6 L248.2 798.1 L250.2 799.7 L252.2 801.3 L254.2 802.8 L256.2 804.4 L258.3 805.9 L260.3 807.4 L262.3 808.9 L264.3 810.4 L266.3 811.9 L268.3 813.4 L270.3 814.9 L272.3 816.4 L274.3 817.8 L276.3 819.3 L278.3 820.7 L280.4 822.2 L282.4 823.6 L284.4 825.0 L286.4 826.4 L288.4 827.8 L290.4 829.2 L292.4 830.6 L294.4 831.9 L296.4 833.3 L298.4 834.6 L300.4 836.0 L302.4 837.3 L304.5 838.6 L306.5 839.9 L308.5 841.2 L310.5 842.5 L312.5 843.8 L314.5 845.1 L316.5 846.4 L318.5 847.6 L320.5 848.9 L322.5 850.1 L324.5 851.4 L326.5 852.6 L328.6 853.8 L330.6 855.0 L332.6 856.2 L334.6 857.4 L336.6 858.6 L338.6 859.7 L340.6 860.9 L342.6 862.0 L344.6 863.2 L346.6 864.3 L348.6 865.4 L350.6 866.6 L352.6 867.7 L354.7 868.8 L356.7 869.9 L358.7 870.9 L360.7 872.0 L362.7 873.1 L364.7 874.1 L366.7 875.2 L368.7 876.2 L370.7 877.2 L372.7 878.3 L374.7 879.3 L376.8 880.3 L378.8 881.3 L380.8 882.2 L382.8 883.2 L384.8 884.2 L386.8 885.2 L388.8 886.1 L390.8 887.1 L392.8 888.0 L394.8 888.9 L396.8 889.8 L398.8 890.7 L400.9 891.6 L402.9 892.5 L404.9 893.4 L406.9 894.3 L408.9 895.2 L410.9 896.0 L412.9 896.9 L414.9 897.7 L416.9 898.6 L418.9 899.4 L420.9 900.2 L422.9 901.1 L424.9 901.9 L427.0 902.7 L429.0 903.5 L431.0 904.2 L433.0 905.0 L435.0 905.8 L437.0 906.6 L439.0 907.3 L441.0 908.1 L443.0 908.8 L445.0 909.5 L447.0 910.3 L449.0 911.0 L451.1 911.7 L453.1 912.4 L455.1 913.1 L457.1 913.8 L459.1 914.5 L461.1 915.2 L463.1 915.8 L465.1 916.5 L467.1 917.1 L469.1 917.8 L471.1 918.4 L473.1 919.1 L475.2 919.7 L477.2 920.3 L479.2 921.0 L481.2 921.6 L483.2 922.2 L485.2 922.8 L487.2 923.3 L489.2 923.9 L491.2 924.5 L493.2 925.0 L495.2 925.5 L497.2 926.1 L499.3 926.6 L501.3 927.1 L503.3 927.6 L505.3 928.0 L507.3 928.5 L509.3 928.9 L511.3 929.3 L513.3 929.7 L515.3 930.1 L517.3 930.5 L519.3 930.8 L521.4 931.1 L523.4 931.4 L525.4 931.7 L527.4 932.0 L529.4 932.2 L531.4 932.4 L533.4 932.6 L535.4 932.8 L537.4 932.9 L539.4 933.0 L541.4 933.1 L543.4 933.2 L545.5 933.2 L547.5 933.2 L549.5 933.2 L551.5 933.1 L553.5 933.0 L555.5 932.9 L557.5 932.8 L557.5 932.3 L555.5 932.5 L553.5 932.7 L551.5 932.8 L549.5 932.9 L547.5 933.1 L545.5 933.2 L543.4 933.3 L541.4 933.4 L539.4 933.6 L537.4 933.7 L535.4 933.8 L533.4 933.9 L531.4 933.9 L529.4 934.0 L527.4 934.1 L525.4 934.2 L523.4 934.3 L521.4 934.3 L519.3 934.4 L517.3 934.4 L515.3 934.5 L513.3 934.5 L511.3 934.5 L509.3 934.6 L507.3 934.6 L505.3 934.6 L503.3 934.6 L501.3 934.6 L499.3 934.6 L497.2 934.6 L495.2 934.6 L493.2 934.5 L491.2 934.5 L489.2 934.5 L487.2 934.4 L485.2 934.4 L483.2 934.3 L481.2 934.3 L479.2 934.2 L477.2 934.1 L475.2 934.0 L473.1 933.9 L471.1 933.8 L469.1 933.7 L467.1 933.6 L465.1 933.5 L463.1 933.4 L461.1 933.3 L459.1 933.1 L457.1 933.0 L455.1 932.8 L453.1 932.7 L451.1 932.5 L449.0 932.3 L447.0 932.1 L445.0 931.9 L443.0 931.7 L441.0 931.5 L439.0 931.3 L437.0 931.1 L435.0 930.9 L433.0 930.6 L431.0 930.4 L429.0 930.2 L427.0 929.9 L424.9 929.6 L422.9 929.4 L420.9 929.1 L418.9 928.8 L416.9 928.5 L414.9 928.2 L412.9 927.9 L410.9 927.5 L408.9 927.2 L406.9 926.9 L404.9 926.5 L402.9 926.2 L400.9 925.8 L398.8 925.4 L396.8 925.1 L394.8 924.7 L392.8 924.3 L390.8 923.9 L388.8 923.5 L386.8 923.0 L384.8 922.6 L382.8 922.2 L380.8 921.7 L378.8 921.3 L376.8 920.8 L374.7 920.3 L372.7 919.9 L370.7 919.4 L368.7 918.9 L366.7 918.3 L364.7 917.8 L362.7 917.3 L360.7 916.8 L358.7 916.2 L356.7 915.7 L354.7 915.1 L352.6 914.5 L350.6 913.9 L348.6 913.4 L346.6 912.7 L344.6 912.1 L342.6 911.5 L340.6 910.9 L338.6 910.2 L336.6 909.6 L334.6 908.9 L332.6 908.3 L330.6 907.6 L328.6 906.9 L326.5 906.2 L324.5 905.5 L322.5 904.8 L320.5 904.1 L318.5 903.3 L316.5 902.6 L314.5 901.8 L312.5 901.1 L310.5 900.3 L308.5 899.5 L306.5 898.7 L304.5 897.9 L302.4 897.1 L300.4 896.3 L298.4 895.5 L296.4 894.6 L294.4 893.8 L292.4 892.9 L290.4 892.0 L288.4 891.2 L286.4 890.3 L284.4 889.4 L282.4 888.5 L280.4 887.6 L278.3 886.6 L276.3 885.7 L274.3 884.8 L272.3 883.8 L270.3 882.8 L268.3 881.9 L266.3 880.9 L264.3 879.9 L262.3 878.9 L260.3 877.9 L258.3 876.8 L256.2 875.8 L254.2 874.8 L252.2 873.7 L250.2 872.7 L248.2 871.6 L246.2 870.5 L244.2 869.4 L242.2 868.3 L240.2 867.2 L238.2 866.1 L236.2 865.0 L234.2 863.8 L232.2 862.7 L230.1 861.5 L228.1 860.4 L226.1 859.2 L224.1 858.0 L222.1 856.8 L220.1 855.6 L218.1 854.4 L216.1 853.2 L214.1 851.9 L212.1 850.7 L210.1 849.4 L208.1 848.2 L206.0 846.9 L204.0 845.6 L202.0 844.3 L200.0 843.0 L198.0 841.7 L196.0 840.4 L194.0 839.0 L192.0 837.7 L190.0 836.4 L188.0 835.0 L186.0 833.6 L184.0 832.2 L181.9 830.9 L179.9 829.5 L177.9 828.0 L175.9 826.6 L173.9 825.2 L171.9 823.8 Z"/></clipPath>
<path d="M171.9 731.5 L173.9 733.4 L175.9 735.3 L177.9 737.2 L179.9 739.1 L181.9 741.0 L184.0 742.9 L186.0 744.8 L188.0 746.6 L190.0 748.5 L192.0 750.3 L194.0 752.2 L196.0 754.0 L198.0 755.8 L200.0 757.6 L202.0 759.4 L204.0 761.2 L206.0 763.0 L208.1 764.7 L210.1 766.5 L212.1 768.3 L214.1 770.0 L216.1 771.7 L218.1 773.4 L220.1 775.2 L222.1 776.9 L224.1 778.6 L226.1 780.2 L228.1 781.9 L230.1 783.6 L232.2 785.2 L234.2 786.9 L236.2 788.5 L238.2 790.1 L240.2 791.8 L242.2 793.4 L244.2 795.0 L246.2 796.6 L248.2 798.1 L250.2 799.7 L252.2 801.3 L254.2 802.8 L256.2 804.4 L258.3 805.9 L260.3 807.4 L262.3 808.9 L264.3 810.4 L266.3 811.9 L268.3 813.4 L270.3 814.9 L272.3 816.4 L274.3 817.8 L276.3 819.3 L278.3 820.7 L280.4 822.2 L282.4 823.6 L284.4 825.0 L286.4 826.4 L288.4 827.8 L290.4 829.2 L292.4 830.6 L294.4 831.9 L296.4 833.3 L298.4 834.6 L300.4 836.0 L302.4 837.3 L304.5 838.6 L306.5 839.9 L308.5 841.2 L310.5 842.5 L312.5 843.8 L314.5 845.1 L316.5 846.4 L318.5 847.6 L320.5 848.9 L322.5 850.1 L324.5 851.4 L326.5 852.6 L328.6 853.8 L330.6 855.0 L332.6 856.2 L334.6 857.4 L336.6 858.6 L338.6 859.7 L340.6 860.9 L342.6 862.0 L344.6 863.2 L346.6 864.3 L348.6 865.4 L350.6 866.6 L352.6 867.7 L354.7 868.8 L356.7 869.9 L358.7 870.9 L360.7 872.0 L362.7 873.1 L364.7 874.1 L366.7 875.2 L368.7 876.2 L370.7 877.2 L372.7 878.3 L374.7 879.3 L376.8 880.3 L378.8 881.3 L380.8 882.2 L382.8 883.2 L384.8 884.2 L386.8 885.2 L388.8 886.1 L390.8 887.1 L392.8 888.0 L394.8 888.9 L396.8 889.8 L398.8 890.7 L400.9 891.6 L402.9 892.5 L404.9 893.4 L406.9 894.3 L408.9 895.2 L410.9 896.0 L412.9 896.9 L414.9 897.7 L416.9 898.6 L418.9 899.4 L420.9 900.2 L422.9 901.1 L424.9 901.9 L427.0 902.7 L429.0 903.5 L431.0 904.2 L433.0 905.0 L435.0 905.8 L437.0 906.6 L439.0 907.3 L441.0 908.1 L443.0 908.8 L445.0 909.5 L447.0 910.3 L449.0 911.0 L451.1 911.7 L453.1 912.4 L455.1 913.1 L457.1 913.8 L459.1 914.5 L461.1 915.2 L463.1 915.8 L465.1 916.5 L467.1 917.1 L469.1 917.8 L471.1 918.4 L473.1 919.1 L475.2 919.7 L477.2 920.3 L479.2 921.0 L481.2 921.6 L483.2 922.2 L485.2 922.8 L487.2 923.3 L489.2 923.9 L491.2 924.5 L493.2 925.0 L495.2 925.5 L497.2 926.1 L499.3 926.6 L501.3 927.1 L503.3 927.6 L505.3 928.0 L507.3 928.5 L509.3 928.9 L511.3 929.3 L513.3 929.7 L515.3 930.1 L517.3 930.5 L519.3 930.8 L521.4 931.1 L523.4 931.4 L525.4 931.7 L527.4 932.0 L529.4 932.2 L531.4 932.4 L533.4 932.6 L535.4 932.8 L537.4 932.9 L539.4 933.0 L541.4 933.1 L543.4 933.2 L545.5 933.2 L547.5 933.2 L549.5 933.2 L551.5 933.1 L553.5 933.0 L555.5 932.9 L557.5 932.8 L557.5 932.3 L555.5 932.5 L553.5 932.7 L551.5 932.8 L549.5 932.9 L547.5 933.1 L545.5 933.2 L543.4 933.3 L541.4 933.4 L539.4 933.6 L537.4 933.7 L535.4 933.8 L533.4 933.9 L531.4 933.9 L529.4 934.0 L527.4 934.1 L525.4 934.2 L523.4 934.3 L521.4 934.3 L519.3 934.4 L517.3 934.4 L515.3 934.5 L513.3 934.5 L511.3 934.5 L509.3 934.6 L507.3 934.6 L505.3 934.6 L503.3 934.6 L501.3 934.6 L499.3 934.6 L497.2 934.6 L495.2 934.6 L493.2 934.5 L491.2 934.5 L489.2 934.5 L487.2 934.4 L485.2 934.4 L483.2 934.3 L481.2 934.3 L479.2 934.2 L477.2 934.1 L475.2 934.0 L473.1 933.9 L471.1 933.8 L469.1 933.7 L467.1 933.6 L465.1 933.5 L463.1 933.4 L461.1 933.3 L459.1 933.1 L457.1 933.0 L455.1 932.8 L453.1 932.7 L451.1 932.5 L449.0 932.3 L447.0 932.1 L445.0 931.9 L443.0 931.7 L441.0 931.5 L439.0 931.3 L437.0 931.1 L435.0 930.9 L433.0 930.6 L431.0 930.4 L429.0 930.2 L427.0 929.9 L424.9 929.6 L422.9 929.4 L420.9 929.1 L418.9 928.8 L416.9 928.5 L414.9 928.2 L412.9 927.9 L410.9 927.5 L408.9 927.2 L406.9 926.9 L404.9 926.5 L402.9 926.2 L400.9 925.8 L398.8 925.4 L396.8 925.1 L394.8 924.7 L392.8 924.3 L390.8 923.9 L388.8 923.5 L386.8 923.0 L384.8 922.6 L382.8 922.2 L380.8 921.7 L378.8 921.3 L376.8 920.8 L374.7 920.3 L372.7 919.9 L370.7 919.4 L368.7 918.9 L366.7 918.3 L364.7 917.8 L362.7 917.3 L360.7 916.8 L358.7 916.2 L356.7 915.7 L354.7 915.1 L352.6 914.5 L350.6 913.9 L348.6 913.4 L346.6 912.7 L344.6 912.1 L342.6 911.5 L340.6 910.9 L338.6 910.2 L336.6 909.6 L334.6 908.9 L332.6 908.3 L330.6 907.6 L328.6 906.9 L326.5 906.2 L324.5 905.5 L322.5 904.8 L320.5 904.1 L318.5 903.3 L316.5 902.6 L314.5 901.8 L312.5 901.1 L310.5 900.3 L308.5 899.5 L306.5 898.7 L304.5 897.9 L302.4 897.1 L300.4 896.3 L298.4 895.5 L296.4 894.6 L294.4 893.8 L292.4 892.9 L290.4 892.0 L288.4 891.2 L286.4 890.3 L284.4 889.4 L282.4 888.5 L280.4 887.6 L278.3 886.6 L276.3 885.7 L274.3 884.8 L272.3 883.8 L270.3 882.8 L268.3 881.9 L266.3 880.9 L264.3 879.9 L262.3 878.9 L260.3 877.9 L258.3 876.8 L256.2 875.8 L254.2 874.8 L252.2 873.7 L250.2 872.7 L248.2 871.6 L246.2 870.5 L244.2 869.4 L242.2 868.3 L240.2 867.2 L238.2 866.1 L236.2 865.0 L234.2 863.8 L232.2 862.7 L230.1 861.5 L228.1 860.4 L226.1 859.2 L224.1 858.0 L222.1 856.8 L220.1 855.6 L218.1 854.4 L216.1 853.2 L214.1 851.9 L212.1 850.7 L210.1 849.4 L208.1 848.2 L206.0 846.9 L204.0 845.6 L202.0 844.3 L200.0 843.0 L198.0 841.7 L196.0 840.4 L194.0 839.0 L192.0 837.7 L190.0 836.4 L188.0 835.0 L186.0 833.6 L184.0 832.2 L181.9 830.9 L179.9 829.5 L177.9 828.0 L175.9 826.6 L173.9 825.2 L171.9 823.8 Z" fill="#ffff00"/>
<path d="M162.5 697.6 L562.5 339.6 M162.5 712.6 L562.5 354.6 M162.5 727.6 L562.5 369.6 M162.5 742.6 L562.5 384.6 M162.5 757.6 L562.5 399.6 M162.5 772.6 L562.5 414.6 M162.5 787.6 L562.5 429.6 M162.5 802.6 L562.5 444.6 M162.5 817.6 L562.5 459.6 M162.5 832.6 L562.5 474.6 M162.5 847.6 L562.5 489.6 M162.5 862.6 L562.5 504.6 M162.5 877.6 L562.5 519.6 M162.5 892.6 L562.5 534.6 M162.5 907.6 L562.5 549.6 M162.5 922.6 L562.5 564.6 M162.5 937.6 L562.5 579.6 M162.5 952.6 L562.5 594.6 M162.5 967.6 L562.5 609.6 M162.5 982.6 L562.5 624.6 M162.5 997.6 L562.5 639.6 M162.5 1012.6 L562.5 654.6 M162.5 1027.6 L562.5 669.6 M162.5 1042.6 L562.5 684.6 M162.5 1057.6 L562.5 699.6 M162.5 1072.6 L562.5 714.6 M162.5 1087.6 L562.5 729.6 M162.5 1102.6 L562.5 744.6 M162.5 1117.6 L562.5 759.6 M162.5 1132.6 L562.5 774.6 M162.5 1147.6 L562.5 789.6 M162.5 1162.6 L562.5 804.6 M162.5 1177.6 L562.5 819.6 M162.5 1192.6 L562.5 834.6 M162.5 1207.6 L562.5 849.6 M162.5 1222.6 L562.5 864.6 M162.5 1237.6 L562.5 879.6 M162.5 1252.6 L562.5 894.6 M162.5 1267.6 L562.5 909.6 M162.5 1282.6 L562.5 924.6 M162.5 1297.6 L562.5 939.6 M162.5 1312.6 L562.5 954.6" stroke="#ff8000" stroke-width="2.6" fill="none" clip-path="url(#band01)"/>
<path d="M171.9 731.5 L173.9 733.4 L175.9 735.3 L177.9 737.2 L179.9 739.1 L181.9 741.0 L184.0 742.9 L186.0 744.8 L188.0 746.6 L190.0 748.5 L192.0 750.3 L194.0 752.2 L196.0 754.0 L198.0 755.8 L200.0 757.6 L202.0 759.4 L204.0 761.2 L206.0 763.0 L208.1 764.7 L210.1 766.5 L212.1 768.3 L214.1 770.0 L216.1 771.7 L218.1 773.4 L220.1 775.2 L222.1 776.9 L224.1 778.6 L226.1 780.2 L228.1 781.9 L230.1 783.6 L232.2 785.2 L234.2 786.9 L236.2 788.5 L238.2 790.1 L240.2 791.8 L242.2 793.4 L244.2 795.0 L246.2 796.6 L248.2 798.1 L250.2 799.7 L252.2 801.3 L254.2 802.8 L256.2 804.4 L258.3 805.9 L260.3 807.4 L262.3 808.9 L264.3 810.4 L266.3 811.9 L268.3 813.4 L270.3 814.9 L272.3 816.4 L274.3 817.8 L276.3 819.3 L278.3 820.7 L280.4 822.2 L282.4 823.6 L284.4 825.0 L286.4 826.4 L288.4 827.8 L290.4 829.2 L292.4 830.6 L294.4 831.9 L296.4 833.3 L298.4 834.6 L300.4 836.0 L302.4 837.3 L304.5 838.6 L306.5 839.9 L308.5 841.2 L310.5 842.5 L312.5 843.8 L314.5 845.1 L316.5 846.4 L318.5 847.6 L320.5 848.9 L322.5 850.1 L324.5 851.4 L326.5 852.6 L328.6 853.8 L330.6 855.0 L332.6 856.2 L334.6 857.4 L336.6 858.6 L338.6 859.7 L340.6 860.9 L342.6 862.0 L344.6 863.2 L346.6 864.3 L348.6 865.4 L350.6 866.6 L352.6 867.7 L354.7 868.8 L356.7 869.9 L358.7 870.9 L360.7 872.0 L362.7 873.1 L364.7 874.1 L366.7 875.2 L368.7 876.2 L370.7 877.2 L372.7 878.3 L374.7 879.3 L376.8 880.3 L378.8 881.3 L380.8 882.2 L382.8 883.2 L384.8 884.2 L386.8 885.2 L388.8 886.1 L390.8 887.1 L392.8 888.0 L394.8 888.9 L396.8 889.8 L398.8 890.7 L400.9 891.6 L402.9 892.5 L404.9 893.4 L406.9 894.3 L408.9 895.2 L410.9 896.0 L412.9 896.9 L414.9 897.7 L416.9 898.6 L418.9 899.4 L420.9 900.2 L422.9 901.1 L424.9 901.9 L427.0 902.7 L429.0 903.5 L431.0 904.2 L433.0 905.0 L435.0 905.8 L437.0 906.6 L439.0 907.3 L441.0 908.1 L443.0 908.8 L445.0 909.5 L447.0 910.3 L449.0 911.0 L451.1 911.7 L453.1 912.4 L455.1 913.1 L457.1 913.8 L459.1 914.5 L461.1 915.2 L463.1 915.8 L465.1 916.5 L467.1 917.1 L469.1 917.8 L471.1 918.4 L473.1 919.1 L475.2 919.7 L477.2 920.3 L479.2 921.0 L481.2 921.6 L483.2 922.2 L485.2 922.8 L487.2 923.3 L489.2 923.9 L491.2 924.5 L493.2 925.0 L495.2 925.5 L497.2 926.1 L499.3 926.6 L501.3 927.1 L503.3 927.6 L505.3 928.0 L507.3 928.5 L509.3 928.9 L511.3 929.3 L513.3 929.7 L515.3 930.1 L517.3 930.5 L519.3 930.8 L521.4 931.1 L523.4 931.4 L525.4 931.7 L527.4 932.0 L529.4 932.2 L531.4 932.4 L533.4 932.6 L535.4 932.8 L537.4 932.9 L539.4 933.0 L541.4 933.1 L543.4 933.2 L545.5 933.2 L547.5 933.2 L549.5 933.2 L551.5 933.1 L553.5 933.0 L555.5 932.9 L557.5 932.8" fill="none" stroke="#ff80ff" stroke-width="3.0" stroke-dasharray="10.6 21.7" stroke-linecap="round"/>
<path d="M171.9 823.8 L173.9 825.2 L175.9 826.6 L177.9 828.0 L179.9 829.5 L181.9 830.9 L184.0 832.2 L186.0 833.6 L188.0 835.0 L190.0 836.4 L192.0 837.7 L194.0 839.0 L196.0 840.4 L198.0 841.7 L200.0 843.0 L202.0 844.3 L204.0 845.6 L206.0 846.9 L208.1 848.2 L210.1 849.4 L212.1 850.7 L214.1 851.9 L216.1 853.2 L218.1 854.4 L220.1 855.6 L222.1 856.8 L224.1 858.0 L226.1 859.2 L228.1 860.4 L230.1 861.5 L232.2 862.7 L234.2 863.8 L236.2 865.0 L238.2 866.1 L240.2 867.2 L242.2 868.3 L244.2 869.4 L246.2 870.5 L248.2 871.6 L250.2 872.7 L252.2 873.7 L254.2 874.8 L256.2 875.8 L258.3 876.8 L260.3 877.9 L262.3 878.9 L264.3 879.9 L266.3 880.9 L268.3 881.9 L270.3 882.8 L272.3 883.8 L274.3 884.8 L276.3 885.7 L278.3 886.6 L280.4 887.6 L282.4 888.5 L284.4 889.4 L286.4 890.3 L288.4 891.2 L290.4 892.0 L292.4 892.9 L294.4 893.8 L296.4 894.6 L298.4 895.5 L300.4 896.3 L302.4 897.1 L304.5 897.9 L306.5 898.7 L308.5 899.5 L310.5 900.3 L312.5 901.1 L314.5 901.8 L316.5 902.6 L318.5 903.3 L320.5 904.1 L322.5 904.8 L324.5 905.5 L326.5 906.2 L328.6 906.9 L330.6 907.6 L332.6 908.3 L334.6 908.9 L336.6 909.6 L338.6 910.2 L340.6 910.9 L342.6 911.5 L344.6 912.1 L346.6 912.7 L348.6 913.4 L350.6 913.9 L352.6 914.5 L354.7 915.1 L356.7 915.7 L358.7 916.2 L360.7 916.8 L362.7 917.3 L364.7 917.8 L366.7 918.3 L368.7 918.9 L370.7 919.4 L372.7 919.9 L374.7 920.3 L376.8 920.8 L378.8 921.3 L380.8 921.7 L382.8 922.2 L384.8 922.6 L386.8 923.0 L388.8 923.5 L390.8 923.9 L392.8 924.3 L394.8 924.7 L396.8 925.1 L398.8 925.4 L400.9 925.8 L402.9 926.2 L404.9 926.5 L406.9 926.9 L408.9 927.2 L410.9 927.5 L412.9 927.9 L414.9 928.2 L416.9 928.5 L418.9 928.8 L420.9 929.1 L422.9 929.4 L424.9 929.6 L427.0 929.9 L429.0 930.2 L431.0 930.4 L433.0 930.6 L435.0 930.9 L437.0 931.1 L439.0 931.3 L441.0 931.5 L443.0 931.7 L445.0 931.9 L447.0 932.1 L449.0 932.3 L451.1 932.5 L453.1 932.7 L455.1 932.8 L457.1 933.0 L459.1 933.1 L461.1 933.3 L463.1 933.4 L465.1 933.5 L467.1 933.6 L469.1 933.7 L471.1 933.8 L473.1 933.9 L475.2 934.0 L477.2 934.1 L479.2 934.2 L481.2 934.3 L483.2 934.3 L485.2 934.4 L487.2 934.4 L489.2 934.5 L491.2 934.5 L493.2 934.5 L495.2 934.6 L497.2 934.6 L499.3 934.6 L501.3 934.6 L503.3 934.6 L505.3 934.6 L507.3 934.6 L509.3 934.6 L511.3 934.5 L513.3 934.5 L515.3 934.5 L517.3 934.4 L519.3 934.4 L521.4 934.3 L523.4 934.3 L525.4 934.2 L527.4 934.1 L529.4 934.0 L531.4 933.9 L533.4 933.9 L535.4 933.8 L537.4 933.7 L539.4 933.6 L541.4 933.4 L543.4 933.3 L545.5 933.2 L547.5 933.1 L549.5 932.9 L551.5 932.8 L553.5 932.7 L555.5 932.5 L557.5 932.3" fill="none" stroke="#ff80ff" stroke-width="3.0" stroke-dasharray="10.6 21.7" stroke-linecap="round"/>
</g>
<g clip-path="url(#cp01)">
<path d="M171.9 776.0 L173.9 777.6 L175.9 779.2 L177.9 780.8 L179.9 782.4 L181.9 784.0 L184.0 785.6 L186.0 787.2 L188.0 788.7 L190.0 790.3 L192.0 791.9 L194.0 793.4 L196.0 795.0 L198.0 796.5 L200.0 798.1 L202.0 799.6 L204.0 801.1 L206.1 802.6 L208.1 804.2 L210.1 805.7 L212.1 807.2 L214.1 808.7 L216.1 810.2 L218.1 811.7 L220.1 813.1 L222.1 814.6 L224.1 816.1 L226.1 817.5 L228.1 819.0 L230.2 820.4 L232.2 821.9 L234.2 823.3 L236.2 824.7 L238.2 826.1 L240.2 827.5 L242.2 828.9 L244.2 830.3 L246.2 831.7 L248.2 833.0 L250.2 834.4 L252.3 835.8 L254.3 837.1 L256.3 838.4 L258.3 839.8 L260.3 841.1 L262.3 842.4 L264.3 843.7 L266.3 845.0 L268.3 846.3 L270.3 847.5 L272.3 848.8 L274.4 850.0 L276.4 851.3 L278.4 852.5 L280.4 853.8 L282.4 855.0 L284.4 856.2 L286.4 857.4 L288.4 858.6 L290.4 859.7 L292.4 860.9 L294.4 862.1 L296.4 863.2 L298.5 864.3 L300.5 865.5 L302.5 866.6 L304.5 867.7 L306.5 868.8 L308.5 869.9 L310.5 871.0 L312.5 872.0 L314.5 873.1 L316.5 874.1 L318.5 875.2 L320.6 876.2 L322.6 877.2 L324.6 878.2 L326.6 879.2 L328.6 880.2 L330.6 881.1 L332.6 882.1 L334.6 883.0 L336.6 884.0 L338.6 884.9 L340.6 885.8 L342.7 886.7 L344.7 887.6 L346.7 888.5 L348.7 889.4 L350.7 890.3 L352.7 891.1 L354.7 892.0 L356.7 892.8 L358.7 893.7 L360.7 894.5 L362.7 895.3 L364.8 896.1 L366.8 896.9 L368.8 897.7 L370.8 898.5 L372.8 899.2 L374.8 900.0 L376.8 900.7 L378.8 901.5 L380.8 902.2 L382.8 902.9 L384.8 903.6 L386.8 904.3 L388.9 905.0 L390.9 905.7 L392.9 906.4 L394.9 907.0 L396.9 907.7 L398.9 908.3 L400.9 909.0 L402.9 909.6 L404.9 910.2 L406.9 910.8 L408.9 911.4 L411.0 912.0 L413.0 912.6 L415.0 913.2 L417.0 913.8 L419.0 914.3 L421.0 914.9 L423.0 915.4 L425.0 915.9 L427.0 916.5 L429.0 917.0 L431.0 917.5 L433.1 918.0 L435.1 918.5 L437.1 919.0 L439.1 919.5 L441.1 919.9 L443.1 920.4 L445.1 920.8 L447.1 921.3 L449.1 921.7 L451.1 922.1 L453.1 922.5 L455.1 923.0 L457.2 923.4 L459.2 923.7 L461.2 924.1 L463.2 924.5 L465.2 924.9 L467.2 925.2 L469.2 925.6 L471.2 925.9 L473.2 926.2 L475.2 926.6 L477.2 926.9 L479.3 927.2 L481.3 927.5 L483.3 927.8 L485.3 928.0 L487.3 928.3 L489.3 928.6 L491.3 928.8 L493.3 929.1 L495.3 929.3 L497.3 929.6 L499.3 929.8 L501.4 930.0 L503.4 930.2 L505.4 930.4 L507.4 930.6 L509.4 930.8 L511.4 930.9 L513.4 931.1 L515.4 931.2 L517.4 931.4 L519.4 931.5 L521.4 931.6 L523.4 931.8 L525.5 931.9 L527.5 932.0 L529.5 932.1 L531.5 932.2 L533.5 932.2 L535.5 932.3 L537.5 932.4 L539.5 932.4 L541.5 932.5 L543.5 932.5 L545.5 932.5 L547.6 932.6 L549.6 932.6 L551.6 932.6 L553.6 932.6 L555.6 932.5 L557.6 932.5" fill="none" stroke="#ff0000" stroke-width="3.0"/>
</g>
<g clip-path="url(#cp01)">
<path d="M167.2 748.2 L169.2 749.9 L171.2 751.6 L173.2 753.2 L175.2 754.9 L177.2 756.6 L179.2 758.2 L181.2 759.9 L183.2 761.5 L185.2 763.2 L187.2 764.8 L189.2 766.4 L191.2 768.0 L193.2 769.6 L195.2 771.2 L197.2 772.8 L199.2 774.4 L201.2 776.0 L203.2 777.5 L205.2 779.1 L207.2 780.6 L209.2 782.2 L211.2 783.7 L213.2 785.2 L215.2 786.8 L217.3 788.3 L219.3 789.8 L221.3 791.3 L223.3 792.7 L225.3 794.2 L227.3 795.7 L229.3 797.1 L231.3 798.6 L233.3 800.0 L235.3 801.5 L237.3 802.9 L239.3 804.3 L241.3 805.7 L243.3 807.2 L245.3 808.6 L247.3 809.9 L249.3 811.3 L251.3 812.7 L253.3 814.1 L255.3 815.4 L257.3 816.8 L259.3 818.1 L261.3 819.4 L263.3 820.8 L265.3 822.1 L267.3 823.4 L269.3 824.7 L271.3 826.0 L273.3 827.3 L275.3 828.6 L277.3 829.8 L279.3 831.1 L281.3 832.4 L283.3 833.6 L285.3 834.8 L287.3 836.1 L289.3 837.3 L291.3 838.5 L293.3 839.7 L295.3 840.9 L297.3 842.1 L299.3 843.3 L301.3 844.5 L303.3 845.6 L305.3 846.8 L307.3 848.0 L309.3 849.1 L311.3 850.2 L313.3 851.4 L315.4 852.5 L317.4 853.6 L319.4 854.7 L321.4 855.8 L323.4 856.9 L325.4 858.0 L327.4 859.1 L329.4 860.1 L331.4 861.2 L333.4 862.2 L335.4 863.3 L337.4 864.3 L339.4 865.3 L341.4 866.4 L343.4 867.4 L345.4 868.4 L347.4 869.4 L349.4 870.3 L351.4 871.3 L353.4 872.3 L355.4 873.3 L357.4 874.2 L359.4 875.2 L361.4 876.1 L363.4 877.0 L365.4 878.0 L367.4 878.9 L369.4 879.8 L371.4 880.7 L373.4 881.6 L375.4 882.5 L377.4 883.3 L379.4 884.2 L381.4 885.1 L383.4 885.9 L385.4 886.8 L387.4 887.6 L389.4 888.4 L391.4 889.3 L393.4 890.1 L395.4 890.9 L397.4 891.7 L399.4 892.5 L401.4 893.2 L403.4 894.0 L405.4 894.8 L407.4 895.5 L409.4 896.3 L411.5 897.0 L413.5 897.8 L415.5 898.5 L417.5 899.2 L419.5 899.9 L421.5 900.6 L423.5 901.3 L425.5 902.0 L427.5 902.7 L429.5 903.4 L431.5 904.0 L433.5 904.7 L435.5 905.3 L437.5 906.0 L439.5 906.6 L441.5 907.2 L443.5 907.9 L445.5 908.5 L447.5 909.1 L449.5 909.7 L451.5 910.2 L453.5 910.8 L455.5 911.4 L457.5 911.9 L459.5 912.5 L461.5 913.0 L463.5 913.6 L465.5 914.1 L467.5 914.6 L469.5 915.2 L471.5 915.7 L473.5 916.2 L475.5 916.7 L477.5 917.1 L479.5 917.6 L481.5 918.1 L483.5 918.5 L485.5 919.0 L487.5 919.4 L489.5 919.9 L491.5 920.3 L493.5 920.7 L495.5 921.1 L497.5 921.5 L499.5 921.9 L501.5 922.3 L503.5 922.7 L505.5 923.1 L507.5 923.4 L509.6 923.8 L511.6 924.2 L513.6 924.5 L515.6 924.8 L517.6 925.2 L519.6 925.5 L521.6 925.8 L523.6 926.1 L525.6 926.4 L527.6 926.7 L529.6 926.9 L531.6 927.2 L533.6 927.5 L535.6 927.7 L537.6 928.0 L539.6 928.2 L541.6 928.5 L543.6 928.7 L545.6 928.9 L547.6 929.1 L549.6 929.3 L551.6 929.5 L553.6 929.7 L555.6 929.9 L557.6 930.0" fill="none" stroke="#800000" stroke-width="3.3"/>
</g>
<path d="M335.0 866.1 V909.8 M330.1 866.1 h9.8 M330.1 909.8 h9.8" stroke="#1f6fe0" stroke-width="2.2" fill="none"/><path d="M343.9 884.4 V909.8 M339.0 884.4 h9.8 M339.0 909.8 h9.8" stroke="#1f6fe0" stroke-width="2.2" fill="none"/><path d="M352.9 877.8 V914.5 M348.0 877.8 h9.8 M348.0 914.5 h9.8" stroke="#1f6fe0" stroke-width="2.2" fill="none"/><path d="M365.0 887.7 V935.8 M360.1 887.7 h9.8 M360.1 935.8 h9.8" stroke="#1f6fe0" stroke-width="2.2" fill="none"/><path d="M329.0 891.3 L341.0 891.3 L335.0 880.9 Z" fill="#1f6fe0"/><path d="M337.9 901.0 L349.9 901.0 L343.9 890.6 Z" fill="#1f6fe0"/><path d="M346.9 900.4 L358.9 900.4 L352.9 890.0 Z" fill="#1f6fe0"/><path d="M359.0 914.7 L371.0 914.7 L365.0 904.3 Z" fill="#1f6fe0"/>
<path d="M335.0 867.4 V911.1 M330.1 867.4 h9.8 M330.1 911.1 h9.8" stroke="#3aa868" stroke-width="2.2" fill="none"/><path d="M343.9 885.7 V911.1 M339.0 885.7 h9.8 M339.0 911.1 h9.8" stroke="#3aa868" stroke-width="2.2" fill="none"/><path d="M352.9 879.3 V916.0 M348.0 879.3 h9.8 M348.0 916.0 h9.8" stroke="#3aa868" stroke-width="2.2" fill="none"/><path d="M365.0 889.9 V938.0 M360.1 889.9 h9.8 M360.1 938.0 h9.8" stroke="#3aa868" stroke-width="2.2" fill="none"/><path d="M329.0 884.6 L341.0 884.6 L335.0 895.0 Z" fill="#3aa868"/><path d="M337.9 894.3 L349.9 894.3 L343.9 904.7 Z" fill="#3aa868"/><path d="M346.9 893.9 L358.9 893.9 L352.9 904.3 Z" fill="#3aa868"/><path d="M359.0 908.9 L371.0 908.9 L365.0 919.3 Z" fill="#3aa868"/>
<path d="M335.0 889.4 v3.6 M343.9 899.1 v3.6 M352.9 898.7 v3.6 M365.0 913.7 v3.6" stroke="#1f6fe0" stroke-width="1.8" fill="none"/>
<g clip-path="url(#cp01)">
<g fill="#800080"><circle cx="249.2" cy="686.0" r="1.9"/><circle cx="254.0" cy="695.5" r="1.9"/><circle cx="258.9" cy="705.0" r="1.9"/><circle cx="263.9" cy="714.4" r="1.9"/><circle cx="269.1" cy="723.7" r="1.9"/><circle cx="274.3" cy="733.0" r="1.9"/><circle cx="279.7" cy="742.1" r="1.9"/><circle cx="285.3" cy="751.2" r="1.9"/><circle cx="291.0" cy="760.2" r="1.9"/><circle cx="296.9" cy="769.1" r="1.9"/><circle cx="302.9" cy="777.9" r="1.9"/><circle cx="309.1" cy="786.6" r="1.9"/><circle cx="315.5" cy="795.1" r="1.9"/><circle cx="322.0" cy="803.5" r="1.9"/><circle cx="328.8" cy="811.8" r="1.9"/><circle cx="335.8" cy="819.8" r="1.9"/><circle cx="343.0" cy="827.7" r="1.9"/><circle cx="350.4" cy="835.3" r="1.9"/><circle cx="358.0" cy="842.8" r="1.9"/><circle cx="365.9" cy="850.0" r="1.9"/><circle cx="374.0" cy="856.9" r="1.9"/><circle cx="382.3" cy="863.5" r="1.9"/><circle cx="390.9" cy="869.9" r="1.9"/><circle cx="399.7" cy="875.9" r="1.9"/><circle cx="408.7" cy="881.6" r="1.9"/><circle cx="417.9" cy="886.9" r="1.9"/><circle cx="427.3" cy="891.9" r="1.9"/><circle cx="436.9" cy="896.6" r="1.9"/><circle cx="446.7" cy="900.9" r="1.9"/><circle cx="456.6" cy="904.8" r="1.9"/><circle cx="466.6" cy="908.4" r="1.9"/><circle cx="476.7" cy="911.8" r="1.9"/><circle cx="486.9" cy="914.8" r="1.9"/><circle cx="497.2" cy="917.6" r="1.9"/><circle cx="507.6" cy="920.2" r="1.9"/><circle cx="517.9" cy="922.6" r="1.9"/><circle cx="528.3" cy="924.9" r="1.9"/><circle cx="538.8" cy="927.1" r="1.9"/><circle cx="549.2" cy="929.3" r="1.9"/></g>
<path d="M172.4 811.2 L172.9 811.5 L173.4 811.9 L173.9 812.2 L174.4 812.5 L174.9 812.9 L175.4 813.2 L175.9 813.5 L176.4 813.9 L176.9 814.2 L177.4 814.5 L177.9 814.8 L178.4 815.2 L178.9 815.5 L179.4 815.8 L179.9 816.2 L180.4 816.5 M196.9 826.8 L197.4 827.1 L197.9 827.4 L198.4 827.7 L198.9 828.0 L199.4 828.3 L199.9 828.6 L200.4 828.9 L200.9 829.2 L201.4 829.5 L201.9 829.8 L202.4 830.1 L202.9 830.3 L203.4 830.6 L203.9 830.9 L204.4 831.2 L204.9 831.5 M220.9 840.4 L221.4 840.7 L221.9 841.0 L222.4 841.2 L222.9 841.5 L223.4 841.8 L223.9 842.0 L224.4 842.3 L224.9 842.6 L225.4 842.8 L225.9 843.1 L226.4 843.3 L226.9 843.6 L227.4 843.9 L227.9 844.1 L228.4 844.4 L228.9 844.6 L229.4 844.9 M244.9 852.6 L245.4 852.8 L245.9 853.0 L246.4 853.3 L246.9 853.5 L247.4 853.7 L247.9 854.0 L248.4 854.2 L248.9 854.4 L249.4 854.7 L249.9 854.9 L250.4 855.1 L250.9 855.4 L251.4 855.6 L251.9 855.8 L252.4 856.1 L252.9 856.3 L253.4 856.5 M268.9 863.3 L269.4 863.5 L269.9 863.7 L270.4 864.0 L270.9 864.2 L271.4 864.4 L271.9 864.6 L272.4 864.8 L272.9 865.0 L273.4 865.2 L273.9 865.4 L274.4 865.6 L274.9 865.8 L275.4 866.0 L275.9 866.2 L276.4 866.4 L276.9 866.6 L277.4 866.8 L277.9 867.0 M293.4 873.0 L293.9 873.2 L294.4 873.4 L294.9 873.6 L295.4 873.8 L295.9 873.9 L296.4 874.1 L296.9 874.3 L297.4 874.5 L297.9 874.7 L298.4 874.8 L298.9 875.0 L299.4 875.2 L299.9 875.4 L300.4 875.6 L300.9 875.7 L301.4 875.9 L301.9 876.1 L302.4 876.3 M316.4 881.0 L316.9 881.2 L317.4 881.4 L317.9 881.5 L318.4 881.7 L318.9 881.9 L319.4 882.0 L319.9 882.2 L320.4 882.3 L320.9 882.5 L321.4 882.7 L321.9 882.8 L322.4 883.0 L322.9 883.1 L323.4 883.3 L323.9 883.5 L324.4 883.6 L324.9 883.8 L325.4 883.9 M339.4 888.1 L339.9 888.3 L340.4 888.4 L340.9 888.6 L341.4 888.7 L341.9 888.9 L342.4 889.0 L342.9 889.2 L343.4 889.3 L343.9 889.4 L344.4 889.6 L344.9 889.7 L345.4 889.9 L345.9 890.0 L346.4 890.1 L346.9 890.3 L347.4 890.4 L347.9 890.6 L348.4 890.7 M363.0 894.6 L363.5 894.7 L364.0 894.8 L364.5 894.9 L365.0 895.1 L365.5 895.2 L366.0 895.3 L366.5 895.5 L367.0 895.6 L367.5 895.7 L368.0 895.8 L368.5 896.0 L369.0 896.1 L369.5 896.2 L370.0 896.3 L370.5 896.5 L371.0 896.6 L371.5 896.7 L372.0 896.8 L372.5 896.9 M389.5 900.9 L390.0 901.0 L390.5 901.2 L391.0 901.3 L391.5 901.4 L392.0 901.5 L392.5 901.6 L393.0 901.7 L393.5 901.8 L394.0 901.9 L394.5 902.0 L395.0 902.1 L395.5 902.3 L396.0 902.4 L396.5 902.5 L397.0 902.6 L397.5 902.7 L398.0 902.8 L398.5 902.9 L399.0 903.0 M417.0 906.7 L417.5 906.8 L418.0 906.9 L418.5 907.0 L419.0 907.1 L419.5 907.2 L420.0 907.3 L420.5 907.4 L421.0 907.5 L421.5 907.6 L422.0 907.7 L422.5 907.8 L423.0 907.9 L423.5 908.0 L424.0 908.1 L424.5 908.2 L425.0 908.3 L425.5 908.4 L426.0 908.5 L426.5 908.6 M443.5 911.7 L444.0 911.8 L444.5 911.9 L445.0 912.0 L445.5 912.1 L446.0 912.2 L446.5 912.2 L447.0 912.3 L447.5 912.4 L448.0 912.5 L448.5 912.6 L449.0 912.7 L449.5 912.8 L450.0 912.9 L450.5 913.0 L451.0 913.0 L451.5 913.1 L452.0 913.2 L452.5 913.3 L453.0 913.4 M469.5 916.2 L470.0 916.3 L470.5 916.4 L471.0 916.4 L471.5 916.5 L472.0 916.6 L472.5 916.7 L473.0 916.8 L473.5 916.9 L474.0 916.9 L474.5 917.0 L475.0 917.1 L475.5 917.2 L476.0 917.3 L476.5 917.4 L477.0 917.4 L477.5 917.5 L478.0 917.6 L478.5 917.7 L479.0 917.8 M497.0 920.7 L497.5 920.7 L498.0 920.8 L498.5 920.9 L499.0 921.0 L499.5 921.1 L500.0 921.1 L500.5 921.2 L501.0 921.3 L501.5 921.4 L502.0 921.5 L502.5 921.5 L503.0 921.6 L503.5 921.7 L504.0 921.8 L504.5 921.9 L505.0 921.9 L505.5 922.0 L506.0 922.1 L506.5 922.2 M510.0 922.7 L510.5 922.8 L511.0 922.9 L511.5 923.0 L512.0 923.1 L512.5 923.1 L513.0 923.2 L513.5 923.3 L514.0 923.4 L514.5 923.5 L515.0 923.5 L515.5 923.6 L516.0 923.7 L516.5 923.8 L517.0 923.9 L517.5 923.9 L518.0 924.0 L518.5 924.1 L519.0 924.2 L519.5 924.3 M535.0 926.7 L535.5 926.8 L536.0 926.9 L536.5 927.0 L537.0 927.1 L537.5 927.1 L538.0 927.2 L538.5 927.3 L539.0 927.4 L539.5 927.5 L540.0 927.6 L540.5 927.6 L541.0 927.7 L541.5 927.8 L542.0 927.9 L542.5 928.0 L543.0 928.0 L543.5 928.1 L544.0 928.2 L544.5 928.3" fill="none" stroke="#000" stroke-width="3.3" stroke-linecap="round"/>
</g>
<g clip-path="url(#cp10)">
<path d="M617.2 517.4 V621.4 H845.0" fill="none" stroke="#fff5b8" stroke-width="1"/>
<path d="M620.6 621.4 H845.0" fill="none" stroke="#ffb060" stroke-width="1" stroke-dasharray="1.2 3.6 1.2 10.3" stroke-opacity="0.8"/>
<clipPath id="band10"><path d="M617.6 439.5 L619.6 441.3 L621.6 443.0 L623.6 444.8 L625.6 446.5 L627.7 448.2 L629.7 449.9 L631.7 451.6 L633.7 453.3 L635.7 455.0 L637.7 456.7 L639.7 458.3 L641.7 460.0 L643.8 461.6 L645.8 463.2 L647.8 464.8 L649.8 466.4 L651.8 468.0 L653.8 469.6 L655.8 471.2 L657.8 472.7 L659.9 474.3 L661.9 475.8 L663.9 477.4 L665.9 478.9 L667.9 480.4 L669.9 481.9 L671.9 483.4 L673.9 484.9 L676.0 486.3 L678.0 487.8 L680.0 489.3 L682.0 490.7 L684.0 492.1 L686.0 493.6 L688.0 495.0 L690.0 496.4 L692.1 497.8 L694.1 499.2 L696.1 500.5 L698.1 501.9 L700.1 503.3 L702.1 504.6 L704.1 505.9 L706.1 507.3 L708.2 508.6 L710.2 509.9 L712.2 511.2 L714.2 512.5 L716.2 513.8 L718.2 515.1 L720.2 516.3 L722.2 517.6 L724.3 518.8 L726.3 520.1 L728.3 521.3 L730.3 522.5 L732.3 523.8 L734.3 525.0 L736.3 526.2 L738.3 527.4 L740.4 528.5 L742.4 529.7 L744.4 530.9 L746.4 532.0 L748.4 533.2 L750.4 534.3 L752.4 535.4 L754.4 536.6 L756.5 537.7 L758.5 538.8 L760.5 539.9 L762.5 541.0 L764.5 542.1 L766.5 543.1 L768.5 544.2 L770.5 545.3 L772.6 546.3 L774.6 547.4 L776.6 548.4 L778.6 549.4 L780.6 550.4 L782.6 551.5 L784.6 552.5 L786.6 553.5 L788.7 554.5 L790.7 555.4 L792.7 556.4 L794.7 557.4 L796.7 558.3 L798.7 559.3 L800.7 560.2 L802.7 561.2 L804.8 562.1 L806.8 563.0 L808.8 564.0 L810.8 564.9 L812.8 565.8 L814.8 566.7 L816.8 567.6 L818.8 568.4 L820.9 569.3 L822.9 570.2 L824.9 571.1 L826.9 571.9 L828.9 572.8 L830.9 573.6 L832.9 574.5 L834.9 575.3 L837.0 576.1 L839.0 576.9 L841.0 577.7 L843.0 578.5 L845.0 579.3 L845.0 612.7 L843.0 612.2 L841.0 611.7 L839.0 611.2 L837.0 610.7 L834.9 610.2 L832.9 609.6 L830.9 609.1 L828.9 608.6 L826.9 608.0 L824.9 607.5 L822.9 606.9 L820.9 606.3 L818.8 605.8 L816.8 605.2 L814.8 604.6 L812.8 604.0 L810.8 603.5 L808.8 602.9 L806.8 602.3 L804.8 601.7 L802.7 601.0 L800.7 600.4 L798.7 599.8 L796.7 599.2 L794.7 598.5 L792.7 597.9 L790.7 597.3 L788.7 596.6 L786.6 595.9 L784.6 595.3 L782.6 594.6 L780.6 593.9 L778.6 593.2 L776.6 592.6 L774.6 591.9 L772.6 591.2 L770.5 590.5 L768.5 589.7 L766.5 589.0 L764.5 588.3 L762.5 587.6 L760.5 586.8 L758.5 586.1 L756.5 585.3 L754.4 584.6 L752.4 583.8 L750.4 583.0 L748.4 582.3 L746.4 581.5 L744.4 580.7 L742.4 579.9 L740.4 579.1 L738.3 578.3 L736.3 577.5 L734.3 576.7 L732.3 575.8 L730.3 575.0 L728.3 574.2 L726.3 573.3 L724.3 572.5 L722.2 571.6 L720.2 570.8 L718.2 569.9 L716.2 569.0 L714.2 568.1 L712.2 567.2 L710.2 566.3 L708.2 565.4 L706.1 564.5 L704.1 563.6 L702.1 562.7 L700.1 561.7 L698.1 560.8 L696.1 559.8 L694.1 558.9 L692.1 557.9 L690.0 557.0 L688.0 556.0 L686.0 555.0 L684.0 554.0 L682.0 553.0 L680.0 552.0 L678.0 551.0 L676.0 550.0 L673.9 549.0 L671.9 548.0 L669.9 546.9 L667.9 545.9 L665.9 544.8 L663.9 543.8 L661.9 542.7 L659.9 541.6 L657.8 540.6 L655.8 539.5 L653.8 538.4 L651.8 537.3 L649.8 536.2 L647.8 535.1 L645.8 533.9 L643.8 532.8 L641.7 531.7 L639.7 530.5 L637.7 529.4 L635.7 528.2 L633.7 527.0 L631.7 525.9 L629.7 524.7 L627.7 523.5 L625.6 522.3 L623.6 521.1 L621.6 519.9 L619.6 518.7 L617.6 517.4 Z"/></clipPath>
<path d="M617.6 439.5 L619.6 441.3 L621.6 443.0 L623.6 444.8 L625.6 446.5 L627.7 448.2 L629.7 449.9 L631.7 451.6 L633.7 453.3 L635.7 455.0 L637.7 456.7 L639.7 458.3 L641.7 460.0 L643.8 461.6 L645.8 463.2 L647.8 464.8 L649.8 466.4 L651.8 468.0 L653.8 469.6 L655.8 471.2 L657.8 472.7 L659.9 474.3 L661.9 475.8 L663.9 477.4 L665.9 478.9 L667.9 480.4 L669.9 481.9 L671.9 483.4 L673.9 484.9 L676.0 486.3 L678.0 487.8 L680.0 489.3 L682.0 490.7 L684.0 492.1 L686.0 493.6 L688.0 495.0 L690.0 496.4 L692.1 497.8 L694.1 499.2 L696.1 500.5 L698.1 501.9 L700.1 503.3 L702.1 504.6 L704.1 505.9 L706.1 507.3 L708.2 508.6 L710.2 509.9 L712.2 511.2 L714.2 512.5 L716.2 513.8 L718.2 515.1 L720.2 516.3 L722.2 517.6 L724.3 518.8 L726.3 520.1 L728.3 521.3 L730.3 522.5 L732.3 523.8 L734.3 525.0 L736.3 526.2 L738.3 527.4 L740.4 528.5 L742.4 529.7 L744.4 530.9 L746.4 532.0 L748.4 533.2 L750.4 534.3 L752.4 535.4 L754.4 536.6 L756.5 537.7 L758.5 538.8 L760.5 539.9 L762.5 541.0 L764.5 542.1 L766.5 543.1 L768.5 544.2 L770.5 545.3 L772.6 546.3 L774.6 547.4 L776.6 548.4 L778.6 549.4 L780.6 550.4 L782.6 551.5 L784.6 552.5 L786.6 553.5 L788.7 554.5 L790.7 555.4 L792.7 556.4 L794.7 557.4 L796.7 558.3 L798.7 559.3 L800.7 560.2 L802.7 561.2 L804.8 562.1 L806.8 563.0 L808.8 564.0 L810.8 564.9 L812.8 565.8 L814.8 566.7 L816.8 567.6 L818.8 568.4 L820.9 569.3 L822.9 570.2 L824.9 571.1 L826.9 571.9 L828.9 572.8 L830.9 573.6 L832.9 574.5 L834.9 575.3 L837.0 576.1 L839.0 576.9 L841.0 577.7 L843.0 578.5 L845.0 579.3 L845.0 612.7 L843.0 612.2 L841.0 611.7 L839.0 611.2 L837.0 610.7 L834.9 610.2 L832.9 609.6 L830.9 609.1 L828.9 608.6 L826.9 608.0 L824.9 607.5 L822.9 606.9 L820.9 606.3 L818.8 605.8 L816.8 605.2 L814.8 604.6 L812.8 604.0 L810.8 603.5 L808.8 602.9 L806.8 602.3 L804.8 601.7 L802.7 601.0 L800.7 600.4 L798.7 599.8 L796.7 599.2 L794.7 598.5 L792.7 597.9 L790.7 597.3 L788.7 596.6 L786.6 595.9 L784.6 595.3 L782.6 594.6 L780.6 593.9 L778.6 593.2 L776.6 592.6 L774.6 591.9 L772.6 591.2 L770.5 590.5 L768.5 589.7 L766.5 589.0 L764.5 588.3 L762.5 587.6 L760.5 586.8 L758.5 586.1 L756.5 585.3 L754.4 584.6 L752.4 583.8 L750.4 583.0 L748.4 582.3 L746.4 581.5 L744.4 580.7 L742.4 579.9 L740.4 579.1 L738.3 578.3 L736.3 577.5 L734.3 576.7 L732.3 575.8 L730.3 575.0 L728.3 574.2 L726.3 573.3 L724.3 572.5 L722.2 571.6 L720.2 570.8 L718.2 569.9 L716.2 569.0 L714.2 568.1 L712.2 567.2 L710.2 566.3 L708.2 565.4 L706.1 564.5 L704.1 563.6 L702.1 562.7 L700.1 561.7 L698.1 560.8 L696.1 559.8 L694.1 558.9 L692.1 557.9 L690.0 557.0 L688.0 556.0 L686.0 555.0 L684.0 554.0 L682.0 553.0 L680.0 552.0 L678.0 551.0 L676.0 550.0 L673.9 549.0 L671.9 548.0 L669.9 546.9 L667.9 545.9 L665.9 544.8 L663.9 543.8 L661.9 542.7 L659.9 541.6 L657.8 540.6 L655.8 539.5 L653.8 538.4 L651.8 537.3 L649.8 536.2 L647.8 535.1 L645.8 533.9 L643.8 532.8 L641.7 531.7 L639.7 530.5 L637.7 529.4 L635.7 528.2 L633.7 527.0 L631.7 525.9 L629.7 524.7 L627.7 523.5 L625.6 522.3 L623.6 521.1 L621.6 519.9 L619.6 518.7 L617.6 517.4 Z" fill="#ffff00"/>
<path d="M608.4 381.5 L845.0 116.5 M608.4 398.8 L845.0 133.8 M608.4 416.1 L845.0 151.1 M608.4 433.4 L845.0 168.4 M608.4 450.7 L845.0 185.7 M608.4 468.0 L845.0 203.0 M608.4 485.3 L845.0 220.3 M608.4 502.6 L845.0 237.6 M608.4 519.9 L845.0 254.9 M608.4 537.2 L845.0 272.2 M608.4 554.5 L845.0 289.5 M608.4 571.8 L845.0 306.8 M608.4 589.1 L845.0 324.1 M608.4 606.4 L845.0 341.4 M608.4 623.7 L845.0 358.7 M608.4 641.0 L845.0 376.0 M608.4 658.3 L845.0 393.3 M608.4 675.6 L845.0 410.6 M608.4 692.9 L845.0 427.9 M608.4 710.2 L845.0 445.2 M608.4 727.5 L845.0 462.5 M608.4 744.8 L845.0 479.8 M608.4 762.1 L845.0 497.1 M608.4 779.4 L845.0 514.4 M608.4 796.7 L845.0 531.7 M608.4 814.0 L845.0 549.0 M608.4 831.3 L845.0 566.3 M608.4 848.6 L845.0 583.6 M608.4 865.9 L845.0 600.9 M608.4 883.2 L845.0 618.2 M608.4 900.5 L845.0 635.5" stroke="#ff8000" stroke-width="2.4" fill="none" clip-path="url(#band10)"/>
<path d="M617.6 439.5 L619.6 441.3 L621.6 443.0 L623.6 444.8 L625.6 446.5 L627.7 448.2 L629.7 449.9 L631.7 451.6 L633.7 453.3 L635.7 455.0 L637.7 456.7 L639.7 458.3 L641.7 460.0 L643.8 461.6 L645.8 463.2 L647.8 464.8 L649.8 466.4 L651.8 468.0 L653.8 469.6 L655.8 471.2 L657.8 472.7 L659.9 474.3 L661.9 475.8 L663.9 477.4 L665.9 478.9 L667.9 480.4 L669.9 481.9 L671.9 483.4 L673.9 484.9 L676.0 486.3 L678.0 487.8 L680.0 489.3 L682.0 490.7 L684.0 492.1 L686.0 493.6 L688.0 495.0 L690.0 496.4 L692.1 497.8 L694.1 499.2 L696.1 500.5 L698.1 501.9 L700.1 503.3 L702.1 504.6 L704.1 505.9 L706.1 507.3 L708.2 508.6 L710.2 509.9 L712.2 511.2 L714.2 512.5 L716.2 513.8 L718.2 515.1 L720.2 516.3 L722.2 517.6 L724.3 518.8 L726.3 520.1 L728.3 521.3 L730.3 522.5 L732.3 523.8 L734.3 525.0 L736.3 526.2 L738.3 527.4 L740.4 528.5 L742.4 529.7 L744.4 530.9 L746.4 532.0 L748.4 533.2 L750.4 534.3 L752.4 535.4 L754.4 536.6 L756.5 537.7 L758.5 538.8 L760.5 539.9 L762.5 541.0 L764.5 542.1 L766.5 543.1 L768.5 544.2 L770.5 545.3 L772.6 546.3 L774.6 547.4 L776.6 548.4 L778.6 549.4 L780.6 550.4 L782.6 551.5 L784.6 552.5 L786.6 553.5 L788.7 554.5 L790.7 555.4 L792.7 556.4 L794.7 557.4 L796.7 558.3 L798.7 559.3 L800.7 560.2 L802.7 561.2 L804.8 562.1 L806.8 563.0 L808.8 564.0 L810.8 564.9 L812.8 565.8 L814.8 566.7 L816.8 567.6 L818.8 568.4 L820.9 569.3 L822.9 570.2 L824.9 571.1 L826.9 571.9 L828.9 572.8 L830.9 573.6 L832.9 574.5 L834.9 575.3 L837.0 576.1 L839.0 576.9 L841.0 577.7 L843.0 578.5 L845.0 579.3" fill="none" stroke="#ff80ff" stroke-width="3.0" stroke-dasharray="10.6 21.8" stroke-linecap="round"/>
<path d="M617.6 517.4 L619.6 518.7 L621.6 519.9 L623.6 521.1 L625.6 522.3 L627.7 523.5 L629.7 524.7 L631.7 525.9 L633.7 527.0 L635.7 528.2 L637.7 529.4 L639.7 530.5 L641.7 531.7 L643.8 532.8 L645.8 533.9 L647.8 535.1 L649.8 536.2 L651.8 537.3 L653.8 538.4 L655.8 539.5 L657.8 540.6 L659.9 541.6 L661.9 542.7 L663.9 543.8 L665.9 544.8 L667.9 545.9 L669.9 546.9 L671.9 548.0 L673.9 549.0 L676.0 550.0 L678.0 551.0 L680.0 552.0 L682.0 553.0 L684.0 554.0 L686.0 555.0 L688.0 556.0 L690.0 557.0 L692.1 557.9 L694.1 558.9 L696.1 559.8 L698.1 560.8 L700.1 561.7 L702.1 562.7 L704.1 563.6 L706.1 564.5 L708.2 565.4 L710.2 566.3 L712.2 567.2 L714.2 568.1 L716.2 569.0 L718.2 569.9 L720.2 570.8 L722.2 571.6 L724.3 572.5 L726.3 573.3 L728.3 574.2 L730.3 575.0 L732.3 575.8 L734.3 576.7 L736.3 577.5 L738.3 578.3 L740.4 579.1 L742.4 579.9 L744.4 580.7 L746.4 581.5 L748.4 582.3 L750.4 583.0 L752.4 583.8 L754.4 584.6 L756.5 585.3 L758.5 586.1 L760.5 586.8 L762.5 587.6 L764.5 588.3 L766.5 589.0 L768.5 589.7 L770.5 590.5 L772.6 591.2 L774.6 591.9 L776.6 592.6 L778.6 593.2 L780.6 593.9 L782.6 594.6 L784.6 595.3 L786.6 595.9 L788.7 596.6 L790.7 597.3 L792.7 597.9 L794.7 598.5 L796.7 599.2 L798.7 599.8 L800.7 600.4 L802.7 601.0 L804.8 601.7 L806.8 602.3 L808.8 602.9 L810.8 603.5 L812.8 604.0 L814.8 604.6 L816.8 605.2 L818.8 605.8 L820.9 606.3 L822.9 606.9 L824.9 607.5 L826.9 608.0 L828.9 608.6 L830.9 609.1 L832.9 609.6 L834.9 610.2 L837.0 610.7 L839.0 611.2 L841.0 611.7 L843.0 612.2 L845.0 612.7" fill="none" stroke="#ff80ff" stroke-width="3.0" stroke-dasharray="10.6 21.8" stroke-linecap="round"/>
</g>
<g clip-path="url(#cp10)">
<path d="M617.6 476.4 L619.6 477.9 L621.6 479.4 L623.6 480.9 L625.6 482.4 L627.6 483.9 L629.6 485.4 L631.6 486.8 L633.6 488.3 L635.6 489.7 L637.6 491.1 L639.6 492.6 L641.6 494.0 L643.6 495.4 L645.6 496.8 L647.6 498.1 L649.7 499.5 L651.7 500.9 L653.7 502.2 L655.7 503.6 L657.7 504.9 L659.7 506.2 L661.7 507.5 L663.7 508.8 L665.7 510.1 L667.7 511.4 L669.7 512.7 L671.7 514.0 L673.7 515.2 L675.7 516.5 L677.7 517.7 L679.7 519.0 L681.7 520.2 L683.7 521.4 L685.7 522.6 L687.7 523.8 L689.7 525.0 L691.7 526.2 L693.7 527.3 L695.7 528.5 L697.7 529.6 L699.7 530.8 L701.7 531.9 L703.7 533.1 L705.7 534.2 L707.7 535.3 L709.8 536.4 L711.8 537.5 L713.8 538.6 L715.8 539.7 L717.8 540.7 L719.8 541.8 L721.8 542.9 L723.8 543.9 L725.8 545.0 L727.8 546.0 L729.8 547.0 L731.8 548.0 L733.8 549.0 L735.8 550.1 L737.8 551.1 L739.8 552.0 L741.8 553.0 L743.8 554.0 L745.8 555.0 L747.8 555.9 L749.8 556.9 L751.8 557.8 L753.8 558.8 L755.8 559.7 L757.8 560.6 L759.8 561.5 L761.8 562.5 L763.8 563.4 L765.8 564.3 L767.8 565.2 L769.9 566.0 L771.9 566.9 L773.9 567.8 L775.9 568.7 L777.9 569.5 L779.9 570.4 L781.9 571.2 L783.9 572.1 L785.9 572.9 L787.9 573.7 L789.9 574.6 L791.9 575.4 L793.9 576.2 L795.9 577.0 L797.9 577.8 L799.9 578.6 L801.9 579.4 L803.9 580.2 L805.9 580.9 L807.9 581.7 L809.9 582.5 L811.9 583.2 L813.9 584.0 L815.9 584.8 L817.9 585.5 L819.9 586.2 L821.9 587.0 L823.9 587.7 L825.9 588.4 L827.9 589.1 L830.0 589.9 L832.0 590.6 L834.0 591.3 L836.0 592.0 L838.0 592.7 L840.0 593.4 L842.0 594.1 L844.0 594.7 L846.0 595.4 L848.0 596.1 L850.0 596.8 L852.0 597.4 L854.0 598.1 L856.0 598.7 L858.0 599.4 L860.0 600.0" fill="none" stroke="#ff0000" stroke-width="3.0"/>
</g>
<g clip-path="url(#cp10)">
<path d="M613.3 451.7 L615.3 453.4 L617.3 455.0 L619.3 456.7 L621.3 458.3 L623.3 459.9 L625.3 461.4 L627.3 463.0 L629.3 464.6 L631.4 466.1 L633.4 467.7 L635.4 469.2 L637.4 470.7 L639.4 472.2 L641.4 473.7 L643.4 475.2 L645.4 476.6 L647.4 478.1 L649.4 479.5 L651.4 481.0 L653.4 482.4 L655.4 483.8 L657.4 485.2 L659.4 486.6 L661.4 488.0 L663.4 489.3 L665.4 490.7 L667.5 492.0 L669.5 493.4 L671.5 494.7 L673.5 496.0 L675.5 497.3 L677.5 498.6 L679.5 499.9 L681.5 501.2 L683.5 502.5 L685.5 503.7 L687.5 505.0 L689.5 506.2 L691.5 507.4 L693.5 508.7 L695.5 509.9 L697.5 511.1 L699.5 512.3 L701.6 513.5 L703.6 514.6 L705.6 515.8 L707.6 517.0 L709.6 518.1 L711.6 519.3 L713.6 520.4 L715.6 521.6 L717.6 522.7 L719.6 523.8 L721.6 524.9 L723.6 526.0 L725.6 527.1 L727.6 528.2 L729.6 529.3 L731.6 530.4 L733.6 531.4 L735.6 532.5 L737.7 533.5 L739.7 534.6 L741.7 535.6 L743.7 536.7 L745.7 537.7 L747.7 538.7 L749.7 539.7 L751.7 540.7 L753.7 541.7 L755.7 542.7 L757.7 543.7 L759.7 544.7 L761.7 545.7 L763.7 546.7 L765.7 547.7 L767.7 548.6 L769.7 549.6 L771.7 550.5 L773.8 551.5 L775.8 552.4 L777.8 553.4 L779.8 554.3 L781.8 555.3 L783.8 556.2 L785.8 557.1 L787.8 558.0 L789.8 559.0 L791.8 559.9 L793.8 560.8 L795.8 561.7 L797.8 562.6 L799.8 563.5 L801.8 564.4 L803.8 565.3 L805.8 566.2 L807.9 567.1 L809.9 567.9 L811.9 568.8 L813.9 569.7 L815.9 570.6 L817.9 571.4 L819.9 572.3 L821.9 573.2 L823.9 574.1 L825.9 574.9 L827.9 575.8 L829.9 576.6 L831.9 577.5 L833.9 578.4 L835.9 579.2 L837.9 580.1 L839.9 580.9 L841.9 581.8 L844.0 582.6 L846.0 583.5 L848.0 584.3 L850.0 585.2 L852.0 586.0 L854.0 586.8 L856.0 587.7 L858.0 588.5 L860.0 589.4" fill="none" stroke="#800000" stroke-width="3.3"/>
</g>
<path d="M757.0 529.6 V586.6 M752.1 529.6 h9.8 M752.1 586.6 h9.8" stroke="#1f6fe0" stroke-width="2.2" fill="none"/><path d="M761.6 579.5 V625.0 M756.7 579.5 h9.8 M756.7 625.0 h9.8" stroke="#1f6fe0" stroke-width="2.2" fill="none"/><path d="M765.9 582.8 V613.0 M761.0 582.8 h9.8 M761.0 613.0 h9.8" stroke="#1f6fe0" stroke-width="2.2" fill="none"/><path d="M771.2 554.3 V582.8 M766.3 554.3 h9.8 M766.3 582.8 h9.8" stroke="#1f6fe0" stroke-width="2.2" fill="none"/><path d="M777.6 572.3 V606.8 M772.7 572.3 h9.8 M772.7 606.8 h9.8" stroke="#1f6fe0" stroke-width="2.2" fill="none"/><path d="M789.0 589.3 V634.7 M784.1 589.3 h9.8 M784.1 634.7 h9.8" stroke="#1f6fe0" stroke-width="2.2" fill="none"/><path d="M751.2 561.8 L762.8 561.8 L757.0 551.8 Z" fill="#1f6fe0"/><path d="M755.8 606.1 L767.4 606.1 L761.6 596.1 Z" fill="#1f6fe0"/><path d="M760.1 602.5 L771.7 602.5 L765.9 592.5 Z" fill="#1f6fe0"/><path d="M765.4 572.2 L777.0 572.2 L771.2 562.2 Z" fill="#1f6fe0"/><path d="M771.8 592.6 L783.4 592.6 L777.6 582.6 Z" fill="#1f6fe0"/><path d="M783.2 616.0 L794.8 616.0 L789.0 606.0 Z" fill="#1f6fe0"/>
<path d="M757.0 530.2 V587.2 M752.1 530.2 h9.8 M752.1 587.2 h9.8" stroke="#3aa868" stroke-width="2.2" fill="none"/><path d="M761.6 580.5 V626.0 M756.7 580.5 h9.8 M756.7 626.0 h9.8" stroke="#3aa868" stroke-width="2.2" fill="none"/><path d="M765.9 583.4 V613.6 M761.0 583.4 h9.8 M761.0 613.6 h9.8" stroke="#3aa868" stroke-width="2.2" fill="none"/><path d="M771.2 554.9 V583.4 M766.3 554.9 h9.8 M766.3 583.4 h9.8" stroke="#3aa868" stroke-width="2.2" fill="none"/><path d="M777.6 572.9 V607.4 M772.7 572.9 h9.8 M772.7 607.4 h9.8" stroke="#3aa868" stroke-width="2.2" fill="none"/><path d="M789.0 591.5 V636.9 M784.1 591.5 h9.8 M784.1 636.9 h9.8" stroke="#3aa868" stroke-width="2.2" fill="none"/><path d="M751.2 554.8 L762.8 554.8 L757.0 564.8 Z" fill="#3aa868"/><path d="M755.8 599.5 L767.4 599.5 L761.6 609.5 Z" fill="#3aa868"/><path d="M760.1 595.5 L771.7 595.5 L765.9 605.5 Z" fill="#3aa868"/><path d="M765.4 565.2 L777.0 565.2 L771.2 575.2 Z" fill="#3aa868"/><path d="M771.8 585.6 L783.4 585.6 L777.6 595.6 Z" fill="#3aa868"/><path d="M783.2 610.6 L794.8 610.6 L789.0 620.6 Z" fill="#3aa868"/>
<path d="M757.0 559.4 v3.6 M761.6 604.1 v3.6 M765.9 600.1 v3.6 M771.2 569.8 v3.6 M777.6 590.2 v3.6 M789.0 615.2 v3.6" stroke="#1f6fe0" stroke-width="1.8" fill="none"/>
<g clip-path="url(#cp10)">
<g fill="#800080"><circle cx="673.4" cy="377.1" r="1.9"/><circle cx="678.6" cy="386.5" r="1.9"/><circle cx="683.8" cy="395.9" r="1.9"/><circle cx="689.3" cy="405.2" r="1.9"/><circle cx="694.8" cy="414.4" r="1.9"/><circle cx="700.6" cy="423.5" r="1.9"/><circle cx="706.4" cy="432.5" r="1.9"/><circle cx="712.5" cy="441.4" r="1.9"/><circle cx="718.7" cy="450.1" r="1.9"/><circle cx="725.1" cy="458.8" r="1.9"/><circle cx="731.6" cy="467.3" r="1.9"/><circle cx="738.4" cy="475.7" r="1.9"/><circle cx="745.3" cy="483.9" r="1.9"/><circle cx="752.4" cy="491.9" r="1.9"/><circle cx="759.8" cy="499.8" r="1.9"/><circle cx="767.3" cy="507.5" r="1.9"/><circle cx="775.0" cy="515.0" r="1.9"/><circle cx="782.9" cy="522.3" r="1.9"/><circle cx="791.0" cy="529.4" r="1.9"/><circle cx="799.3" cy="536.2" r="1.9"/><circle cx="807.7" cy="542.9" r="1.9"/><circle cx="816.3" cy="549.3" r="1.9"/><circle cx="825.1" cy="555.5" r="1.9"/><circle cx="834.0" cy="561.6" r="1.9"/><circle cx="843.0" cy="567.4" r="1.9"/></g>
<path d="M618.1 528.6 L618.6 528.9 L619.1 529.1 L619.6 529.4 L620.1 529.6 L620.6 529.9 L621.1 530.1 L621.6 530.4 L622.1 530.6 L622.6 530.9 L623.1 531.1 L623.6 531.3 L624.1 531.6 L624.6 531.8 L625.1 532.1 L625.6 532.3 L626.1 532.5 L626.6 532.8 M642.1 539.9 L642.6 540.1 L643.1 540.3 L643.6 540.5 L644.1 540.7 L644.6 540.9 L645.1 541.2 L645.6 541.4 L646.1 541.6 L646.6 541.8 L647.1 542.0 L647.6 542.2 L648.2 542.4 L648.7 542.6 L649.2 542.9 L649.7 543.1 L650.2 543.3 L650.7 543.5 L651.2 543.7 M668.2 550.4 L668.7 550.6 L669.2 550.8 L669.7 551.0 L670.2 551.2 L670.7 551.4 L671.2 551.6 L671.7 551.7 L672.2 551.9 L672.7 552.1 L673.2 552.3 L673.7 552.5 L674.2 552.7 L674.7 552.8 L675.2 553.0 L675.7 553.2 L676.2 553.4 L676.7 553.6 L677.2 553.7 M692.2 558.9 L692.7 559.1 L693.2 559.2 L693.7 559.4 L694.2 559.6 L694.7 559.7 L695.2 559.9 L695.7 560.0 L696.2 560.2 L696.7 560.4 L697.2 560.5 L697.7 560.7 L698.2 560.9 L698.7 561.0 L699.2 561.2 L699.7 561.3 L700.2 561.5 L700.7 561.6 L701.2 561.8 M719.3 567.2 L719.8 567.3 L720.3 567.4 L720.8 567.6 L721.3 567.7 L721.8 567.9 L722.3 568.0 L722.8 568.1 L723.3 568.3 L723.8 568.4 L724.3 568.6 L724.8 568.7 L725.3 568.8 L725.8 569.0 L726.3 569.1 L726.8 569.2 L727.3 569.4 L727.8 569.5 L728.3 569.7 M746.3 574.3 L746.8 574.4 L747.3 574.5 L747.8 574.7 L748.3 574.8 L748.8 574.9 L749.3 575.0 L749.8 575.1 L750.3 575.3 L750.8 575.4 L751.3 575.5 L751.8 575.6 L752.3 575.7 L752.8 575.9 L753.3 576.0 L753.8 576.1 L754.3 576.2 L754.8 576.3 L755.3 576.4 L755.8 576.6 M771.4 580.1 L771.9 580.2 L772.4 580.3 L772.9 580.4 L773.4 580.5 L773.9 580.6 L774.4 580.7 L774.9 580.8 L775.4 580.9 L775.9 581.0 L776.4 581.1 L776.9 581.2 L777.4 581.4 L777.9 581.5 L778.4 581.6 L778.9 581.7 L779.4 581.8 L779.9 581.9 L780.4 582.0 L780.9 582.1 M797.4 585.4 L797.9 585.5 L798.4 585.6 L798.9 585.7 L799.4 585.8 L799.9 585.9 L800.4 586.0 L800.9 586.1 L801.4 586.2 L801.9 586.3 L802.4 586.4 L802.9 586.5 L803.4 586.6 L803.9 586.7 L804.4 586.8 L804.9 586.9 L805.4 587.0 L805.9 587.1 L806.4 587.2 L806.9 587.3 M824.9 590.6 L825.4 590.7 L825.9 590.8 L826.4 590.9 L826.9 591.0 L827.4 591.1 L827.9 591.2 L828.4 591.3 L828.9 591.3 L829.4 591.4 L830.0 591.5 L830.5 591.6 L831.0 591.7 L831.5 591.8 L832.0 591.9 L832.5 592.0 L833.0 592.1 L833.5 592.2 L834.0 592.2 L834.5 592.3" fill="none" stroke="#000" stroke-width="3.3" stroke-linecap="round"/>
</g>
<g clip-path="url(#cp11)">
<path d="M617.2 822.5 V932.8 H845.0" fill="none" stroke="#fff5b8" stroke-width="1"/>
<path d="M620.6 932.8 H845.0" fill="none" stroke="#ffb060" stroke-width="1" stroke-dasharray="1.2 3.6 1.2 10.3" stroke-opacity="0.8"/>
<path d="M617.2 932.8 V936.0 H845.0" fill="none" stroke="#fff5b8" stroke-width="1"/>
<path d="M623.6 936.0 H845.0" fill="none" stroke="#ffb060" stroke-width="1" stroke-dasharray="1.2 3.6 1.2 10.3" stroke-opacity="0.8"/>
<clipPath id="band11"><path d="M617.6 712.3 L619.6 714.4 L621.6 716.5 L623.6 718.7 L625.6 720.8 L627.7 722.9 L629.7 725.0 L631.7 727.0 L633.7 729.1 L635.7 731.2 L637.7 733.2 L639.7 735.2 L641.7 737.2 L643.8 739.3 L645.8 741.3 L647.8 743.2 L649.8 745.2 L651.8 747.2 L653.8 749.1 L655.8 751.1 L657.8 753.0 L659.9 754.9 L661.9 756.8 L663.9 758.7 L665.9 760.6 L667.9 762.5 L669.9 764.3 L671.9 766.2 L673.9 768.0 L676.0 769.8 L678.0 771.6 L680.0 773.5 L682.0 775.2 L684.0 777.0 L686.0 778.8 L688.0 780.6 L690.0 782.3 L692.1 784.1 L694.1 785.8 L696.1 787.5 L698.1 789.2 L700.1 790.9 L702.1 792.6 L704.1 794.3 L706.1 795.9 L708.2 797.6 L710.2 799.3 L712.2 800.9 L714.2 802.5 L716.2 804.1 L718.2 805.7 L720.2 807.3 L722.2 808.9 L724.3 810.5 L726.3 812.1 L728.3 813.6 L730.3 815.2 L732.3 816.7 L734.3 818.2 L736.3 819.7 L738.3 821.2 L740.4 822.7 L742.4 824.2 L744.4 825.7 L746.4 827.2 L748.4 828.6 L750.4 830.1 L752.4 831.5 L754.4 832.9 L756.5 834.3 L758.5 835.8 L760.5 837.2 L762.5 838.5 L764.5 839.9 L766.5 841.3 L768.5 842.7 L770.5 844.0 L772.6 845.4 L774.6 846.7 L776.6 848.0 L778.6 849.3 L780.6 850.6 L782.6 851.9 L784.6 853.2 L786.6 854.5 L788.7 855.8 L790.7 857.0 L792.7 858.3 L794.7 859.5 L796.7 860.8 L798.7 862.0 L800.7 863.2 L802.7 864.4 L804.8 865.6 L806.8 866.8 L808.8 868.0 L810.8 869.2 L812.8 870.3 L814.8 871.5 L816.8 872.6 L818.8 873.8 L820.9 874.9 L822.9 876.0 L824.9 877.2 L826.9 878.3 L828.9 879.4 L830.9 880.4 L832.9 881.5 L834.9 882.6 L837.0 883.7 L839.0 884.7 L841.0 885.8 L843.0 886.8 L845.0 887.9 L845.0 924.6 L843.0 924.3 L841.0 924.0 L839.0 923.7 L837.0 923.5 L834.9 923.2 L832.9 922.9 L830.9 922.6 L828.9 922.3 L826.9 921.9 L824.9 921.6 L822.9 921.3 L820.9 921.0 L818.8 920.6 L816.8 920.3 L814.8 919.9 L812.8 919.5 L810.8 919.1 L808.8 918.7 L806.8 918.3 L804.8 917.9 L802.7 917.4 L800.7 917.0 L798.7 916.5 L796.7 916.0 L794.7 915.5 L792.7 915.0 L790.7 914.5 L788.7 913.9 L786.6 913.3 L784.6 912.8 L782.6 912.1 L780.6 911.5 L778.6 910.9 L776.6 910.2 L774.6 909.5 L772.6 908.8 L770.5 908.1 L768.5 907.4 L766.5 906.7 L764.5 905.9 L762.5 905.1 L760.5 904.3 L758.5 903.5 L756.5 902.7 L754.4 901.9 L752.4 901.0 L750.4 900.2 L748.4 899.3 L746.4 898.4 L744.4 897.5 L742.4 896.6 L740.4 895.7 L738.3 894.8 L736.3 893.8 L734.3 892.9 L732.3 891.9 L730.3 890.9 L728.3 890.0 L726.3 889.0 L724.3 888.0 L722.2 887.0 L720.2 886.0 L718.2 884.9 L716.2 883.9 L714.2 882.9 L712.2 881.8 L710.2 880.7 L708.2 879.7 L706.1 878.6 L704.1 877.5 L702.1 876.4 L700.1 875.3 L698.1 874.2 L696.1 873.1 L694.1 871.9 L692.1 870.8 L690.0 869.7 L688.0 868.5 L686.0 867.3 L684.0 866.1 L682.0 865.0 L680.0 863.8 L678.0 862.6 L676.0 861.4 L673.9 860.1 L671.9 858.9 L669.9 857.7 L667.9 856.4 L665.9 855.2 L663.9 853.9 L661.9 852.6 L659.9 851.4 L657.8 850.1 L655.8 848.8 L653.8 847.5 L651.8 846.2 L649.8 844.8 L647.8 843.5 L645.8 842.2 L643.8 840.8 L641.7 839.5 L639.7 838.1 L637.7 836.7 L635.7 835.3 L633.7 833.9 L631.7 832.5 L629.7 831.1 L627.7 829.7 L625.6 828.3 L623.6 826.9 L621.6 825.4 L619.6 824.0 L617.6 822.5 Z"/></clipPath>
<path d="M617.6 712.3 L619.6 714.4 L621.6 716.5 L623.6 718.7 L625.6 720.8 L627.7 722.9 L629.7 725.0 L631.7 727.0 L633.7 729.1 L635.7 731.2 L637.7 733.2 L639.7 735.2 L641.7 737.2 L643.8 739.3 L645.8 741.3 L647.8 743.2 L649.8 745.2 L651.8 747.2 L653.8 749.1 L655.8 751.1 L657.8 753.0 L659.9 754.9 L661.9 756.8 L663.9 758.7 L665.9 760.6 L667.9 762.5 L669.9 764.3 L671.9 766.2 L673.9 768.0 L676.0 769.8 L678.0 771.6 L680.0 773.5 L682.0 775.2 L684.0 777.0 L686.0 778.8 L688.0 780.6 L690.0 782.3 L692.1 784.1 L694.1 785.8 L696.1 787.5 L698.1 789.2 L700.1 790.9 L702.1 792.6 L704.1 794.3 L706.1 795.9 L708.2 797.6 L710.2 799.3 L712.2 800.9 L714.2 802.5 L716.2 804.1 L718.2 805.7 L720.2 807.3 L722.2 808.9 L724.3 810.5 L726.3 812.1 L728.3 813.6 L730.3 815.2 L732.3 816.7 L734.3 818.2 L736.3 819.7 L738.3 821.2 L740.4 822.7 L742.4 824.2 L744.4 825.7 L746.4 827.2 L748.4 828.6 L750.4 830.1 L752.4 831.5 L754.4 832.9 L756.5 834.3 L758.5 835.8 L760.5 837.2 L762.5 838.5 L764.5 839.9 L766.5 841.3 L768.5 842.7 L770.5 844.0 L772.6 845.4 L774.6 846.7 L776.6 848.0 L778.6 849.3 L780.6 850.6 L782.6 851.9 L784.6 853.2 L786.6 854.5 L788.7 855.8 L790.7 857.0 L792.7 858.3 L794.7 859.5 L796.7 860.8 L798.7 862.0 L800.7 863.2 L802.7 864.4 L804.8 865.6 L806.8 866.8 L808.8 868.0 L810.8 869.2 L812.8 870.3 L814.8 871.5 L816.8 872.6 L818.8 873.8 L820.9 874.9 L822.9 876.0 L824.9 877.2 L826.9 878.3 L828.9 879.4 L830.9 880.4 L832.9 881.5 L834.9 882.6 L837.0 883.7 L839.0 884.7 L841.0 885.8 L843.0 886.8 L845.0 887.9 L845.0 924.6 L843.0 924.3 L841.0 924.0 L839.0 923.7 L837.0 923.5 L834.9 923.2 L832.9 922.9 L830.9 922.6 L828.9 922.3 L826.9 921.9 L824.9 921.6 L822.9 921.3 L820.9 921.0 L818.8 920.6 L816.8 920.3 L814.8 919.9 L812.8 919.5 L810.8 919.1 L808.8 918.7 L806.8 918.3 L804.8 917.9 L802.7 917.4 L800.7 917.0 L798.7 916.5 L796.7 916.0 L794.7 915.5 L792.7 915.0 L790.7 914.5 L788.7 913.9 L786.6 913.3 L784.6 912.8 L782.6 912.1 L780.6 911.5 L778.6 910.9 L776.6 910.2 L774.6 909.5 L772.6 908.8 L770.5 908.1 L768.5 907.4 L766.5 906.7 L764.5 905.9 L762.5 905.1 L760.5 904.3 L758.5 903.5 L756.5 902.7 L754.4 901.9 L752.4 901.0 L750.4 900.2 L748.4 899.3 L746.4 898.4 L744.4 897.5 L742.4 896.6 L740.4 895.7 L738.3 894.8 L736.3 893.8 L734.3 892.9 L732.3 891.9 L730.3 890.9 L728.3 890.0 L726.3 889.0 L724.3 888.0 L722.2 887.0 L720.2 886.0 L718.2 884.9 L716.2 883.9 L714.2 882.9 L712.2 881.8 L710.2 880.7 L708.2 879.7 L706.1 878.6 L704.1 877.5 L702.1 876.4 L700.1 875.3 L698.1 874.2 L696.1 873.1 L694.1 871.9 L692.1 870.8 L690.0 869.7 L688.0 868.5 L686.0 867.3 L684.0 866.1 L682.0 865.0 L680.0 863.8 L678.0 862.6 L676.0 861.4 L673.9 860.1 L671.9 858.9 L669.9 857.7 L667.9 856.4 L665.9 855.2 L663.9 853.9 L661.9 852.6 L659.9 851.4 L657.8 850.1 L655.8 848.8 L653.8 847.5 L651.8 846.2 L649.8 844.8 L647.8 843.5 L645.8 842.2 L643.8 840.8 L641.7 839.5 L639.7 838.1 L637.7 836.7 L635.7 835.3 L633.7 833.9 L631.7 832.5 L629.7 831.1 L627.7 829.7 L625.6 828.3 L623.6 826.9 L621.6 825.4 L619.6 824.0 L617.6 822.5 Z" fill="#ffff00"/>
<path d="M608.4 688.2 L845.0 420.8 M608.4 705.4 L845.0 438.0 M608.4 722.6 L845.0 455.2 M608.4 739.8 L845.0 472.4 M608.4 757.0 L845.0 489.6 M608.4 774.2 L845.0 506.8 M608.4 791.4 L845.0 524.0 M608.4 808.6 L845.0 541.2 M608.4 825.8 L845.0 558.4 M608.4 843.0 L845.0 575.6 M608.4 860.2 L845.0 592.8 M608.4 877.4 L845.0 610.0 M608.4 894.6 L845.0 627.2 M608.4 911.8 L845.0 644.4 M608.4 929.0 L845.0 661.6 M608.4 946.2 L845.0 678.8 M608.4 963.4 L845.0 696.0 M608.4 980.6 L845.0 713.2 M608.4 997.8 L845.0 730.4 M608.4 1015.0 L845.0 747.6 M608.4 1032.2 L845.0 764.8 M608.4 1049.4 L845.0 782.0 M608.4 1066.6 L845.0 799.2 M608.4 1083.8 L845.0 816.4 M608.4 1101.0 L845.0 833.6 M608.4 1118.2 L845.0 850.8 M608.4 1135.4 L845.0 868.0 M608.4 1152.6 L845.0 885.2 M608.4 1169.8 L845.0 902.4 M608.4 1187.0 L845.0 919.6 M608.4 1204.2 L845.0 936.8 M608.4 1221.4 L845.0 954.0" stroke="#ff8000" stroke-width="2.4" fill="none" clip-path="url(#band11)"/>
<path d="M617.6 712.3 L619.6 714.4 L621.6 716.5 L623.6 718.7 L625.6 720.8 L627.7 722.9 L629.7 725.0 L631.7 727.0 L633.7 729.1 L635.7 731.2 L637.7 733.2 L639.7 735.2 L641.7 737.2 L643.8 739.3 L645.8 741.3 L647.8 743.2 L649.8 745.2 L651.8 747.2 L653.8 749.1 L655.8 751.1 L657.8 753.0 L659.9 754.9 L661.9 756.8 L663.9 758.7 L665.9 760.6 L667.9 762.5 L669.9 764.3 L671.9 766.2 L673.9 768.0 L676.0 769.8 L678.0 771.6 L680.0 773.5 L682.0 775.2 L684.0 777.0 L686.0 778.8 L688.0 780.6 L690.0 782.3 L692.1 784.1 L694.1 785.8 L696.1 787.5 L698.1 789.2 L700.1 790.9 L702.1 792.6 L704.1 794.3 L706.1 795.9 L708.2 797.6 L710.2 799.3 L712.2 800.9 L714.2 802.5 L716.2 804.1 L718.2 805.7 L720.2 807.3 L722.2 808.9 L724.3 810.5 L726.3 812.1 L728.3 813.6 L730.3 815.2 L732.3 816.7 L734.3 818.2 L736.3 819.7 L738.3 821.2 L740.4 822.7 L742.4 824.2 L744.4 825.7 L746.4 827.2 L748.4 828.6 L750.4 830.1 L752.4 831.5 L754.4 832.9 L756.5 834.3 L758.5 835.8 L760.5 837.2 L762.5 838.5 L764.5 839.9 L766.5 841.3 L768.5 842.7 L770.5 844.0 L772.6 845.4 L774.6 846.7 L776.6 848.0 L778.6 849.3 L780.6 850.6 L782.6 851.9 L784.6 853.2 L786.6 854.5 L788.7 855.8 L790.7 857.0 L792.7 858.3 L794.7 859.5 L796.7 860.8 L798.7 862.0 L800.7 863.2 L802.7 864.4 L804.8 865.6 L806.8 866.8 L808.8 868.0 L810.8 869.2 L812.8 870.3 L814.8 871.5 L816.8 872.6 L818.8 873.8 L820.9 874.9 L822.9 876.0 L824.9 877.2 L826.9 878.3 L828.9 879.4 L830.9 880.4 L832.9 881.5 L834.9 882.6 L837.0 883.7 L839.0 884.7 L841.0 885.8 L843.0 886.8 L845.0 887.9" fill="none" stroke="#ff80ff" stroke-width="3.0" stroke-dasharray="10.6 21.8" stroke-linecap="round"/>
<path d="M617.6 822.5 L619.6 824.0 L621.6 825.4 L623.6 826.9 L625.6 828.3 L627.7 829.7 L629.7 831.1 L631.7 832.5 L633.7 833.9 L635.7 835.3 L637.7 836.7 L639.7 838.1 L641.7 839.5 L643.8 840.8 L645.8 842.2 L647.8 843.5 L649.8 844.8 L651.8 846.2 L653.8 847.5 L655.8 848.8 L657.8 850.1 L659.9 851.4 L661.9 852.6 L663.9 853.9 L665.9 855.2 L667.9 856.4 L669.9 857.7 L671.9 858.9 L673.9 860.1 L676.0 861.4 L678.0 862.6 L680.0 863.8 L682.0 865.0 L684.0 866.1 L686.0 867.3 L688.0 868.5 L690.0 869.7 L692.1 870.8 L694.1 871.9 L696.1 873.1 L698.1 874.2 L700.1 875.3 L702.1 876.4 L704.1 877.5 L706.1 878.6 L708.2 879.7 L710.2 880.7 L712.2 881.8 L714.2 882.9 L716.2 883.9 L718.2 884.9 L720.2 886.0 L722.2 887.0 L724.3 888.0 L726.3 889.0 L728.3 890.0 L730.3 890.9 L732.3 891.9 L734.3 892.9 L736.3 893.8 L738.3 894.8 L740.4 895.7 L742.4 896.6 L744.4 897.5 L746.4 898.4 L748.4 899.3 L750.4 900.2 L752.4 901.0 L754.4 901.9 L756.5 902.7 L758.5 903.5 L760.5 904.3 L762.5 905.1 L764.5 905.9 L766.5 906.7 L768.5 907.4 L770.5 908.1 L772.6 908.8 L774.6 909.5 L776.6 910.2 L778.6 910.9 L780.6 911.5 L782.6 912.1 L784.6 912.8 L786.6 913.3 L788.7 913.9 L790.7 914.5 L792.7 915.0 L794.7 915.5 L796.7 916.0 L798.7 916.5 L800.7 917.0 L802.7 917.4 L804.8 917.9 L806.8 918.3 L808.8 918.7 L810.8 919.1 L812.8 919.5 L814.8 919.9 L816.8 920.3 L818.8 920.6 L820.9 921.0 L822.9 921.3 L824.9 921.6 L826.9 921.9 L828.9 922.3 L830.9 922.6 L832.9 922.9 L834.9 923.2 L837.0 923.5 L839.0 923.7 L841.0 924.0 L843.0 924.3 L845.0 924.6" fill="none" stroke="#ff80ff" stroke-width="3.0" stroke-dasharray="10.6 22.1" stroke-linecap="round"/>
</g>
<g clip-path="url(#cp11)">
<path d="M617.6 764.5 L619.6 766.3 L621.6 768.1 L623.6 769.9 L625.6 771.6 L627.6 773.4 L629.6 775.2 L631.6 777.0 L633.6 778.7 L635.6 780.5 L637.6 782.2 L639.6 784.0 L641.6 785.7 L643.6 787.4 L645.6 789.2 L647.6 790.9 L649.7 792.6 L651.7 794.3 L653.7 796.0 L655.7 797.7 L657.7 799.3 L659.7 801.0 L661.7 802.7 L663.7 804.3 L665.7 806.0 L667.7 807.6 L669.7 809.2 L671.7 810.9 L673.7 812.5 L675.7 814.1 L677.7 815.7 L679.7 817.3 L681.7 818.8 L683.7 820.4 L685.7 822.0 L687.7 823.5 L689.7 825.1 L691.7 826.6 L693.7 828.1 L695.7 829.6 L697.7 831.1 L699.7 832.6 L701.7 834.1 L703.7 835.5 L705.7 837.0 L707.7 838.4 L709.8 839.8 L711.8 841.3 L713.8 842.7 L715.8 844.1 L717.8 845.4 L719.8 846.8 L721.8 848.2 L723.8 849.5 L725.8 850.8 L727.8 852.2 L729.8 853.5 L731.8 854.8 L733.8 856.0 L735.8 857.3 L737.8 858.6 L739.8 859.8 L741.8 861.0 L743.8 862.2 L745.8 863.4 L747.8 864.6 L749.8 865.8 L751.8 866.9 L753.8 868.1 L755.8 869.2 L757.8 870.3 L759.8 871.4 L761.8 872.5 L763.8 873.5 L765.8 874.6 L767.8 875.6 L769.9 876.6 L771.9 877.7 L773.9 878.7 L775.9 879.6 L777.9 880.6 L779.9 881.6 L781.9 882.5 L783.9 883.4 L785.9 884.4 L787.9 885.3 L789.9 886.1 L791.9 887.0 L793.9 887.9 L795.9 888.7 L797.9 889.6 L799.9 890.4 L801.9 891.2 L803.9 892.0 L805.9 892.8 L807.9 893.6 L809.9 894.4 L811.9 895.1 L813.9 895.9 L815.9 896.6 L817.9 897.3 L819.9 898.0 L821.9 898.7 L823.9 899.4 L825.9 900.1 L827.9 900.7 L830.0 901.4 L832.0 902.0 L834.0 902.7 L836.0 903.3 L838.0 903.9 L840.0 904.5 L842.0 905.1 L844.0 905.7 L846.0 906.2 L848.0 906.8 L850.0 907.3 L852.0 907.9 L854.0 908.4 L856.0 908.9 L858.0 909.4 L860.0 909.9" fill="none" stroke="#ff0000" stroke-width="3.0"/>
</g>
<path d="M802.9 882.3 V939.7 M798.0 882.3 h9.8 M798.0 939.7 h9.8" stroke="#1f6fe0" stroke-width="2.2" fill="none"/><path d="M807.5 832.5 V905.2 M802.6 832.5 h9.8 M802.6 905.2 h9.8" stroke="#1f6fe0" stroke-width="2.2" fill="none"/><path d="M817.4 863.3 V918.0 M812.5 863.3 h9.8 M812.5 918.0 h9.8" stroke="#1f6fe0" stroke-width="2.2" fill="none"/><path d="M818.6 869.3 V921.0 M813.7 869.3 h9.8 M813.7 921.0 h9.8" stroke="#1f6fe0" stroke-width="2.2" fill="none"/><path d="M823.2 878.4 V925.0 M818.3 878.4 h9.8 M818.3 925.0 h9.8" stroke="#1f6fe0" stroke-width="2.2" fill="none"/><path d="M829.0 876.0 V924.0 M824.1 876.0 h9.8 M824.1 924.0 h9.8" stroke="#1f6fe0" stroke-width="2.2" fill="none"/><path d="M796.9 915.0 L808.9 915.0 L802.9 904.7 Z" fill="#1f6fe0"/><path d="M801.5 872.1 L813.5 872.1 L807.5 861.8 Z" fill="#1f6fe0"/><path d="M811.4 894.3 L823.4 894.3 L817.4 884.0 Z" fill="#1f6fe0"/><path d="M812.6 897.3 L824.6 897.3 L818.6 887.0 Z" fill="#1f6fe0"/><path d="M817.2 906.3 L829.2 906.3 L823.2 896.0 Z" fill="#1f6fe0"/><path d="M823.0 902.3 L835.0 902.3 L829.0 892.0 Z" fill="#1f6fe0"/>
<path d="M812.0 848.0 V929.4 M807.1 848.0 h9.8 M807.1 929.4 h9.8" stroke="#3aa868" stroke-width="2.2" fill="none"/><path d="M817.4 845.6 V920.4 M812.5 845.6 h9.8 M812.5 920.4 h9.8" stroke="#3aa868" stroke-width="2.2" fill="none"/><path d="M823.2 880.0 V927.0 M818.3 880.0 h9.8 M818.3 927.0 h9.8" stroke="#3aa868" stroke-width="2.2" fill="none"/><path d="M829.5 877.0 V926.0 M824.6 877.0 h9.8 M824.6 926.0 h9.8" stroke="#3aa868" stroke-width="2.2" fill="none"/><path d="M806.4 883.0 L817.6 883.0 L812.0 892.6 Z" fill="#3aa868"/><path d="M811.8 880.0 L823.0 880.0 L817.4 889.6 Z" fill="#3aa868"/><path d="M817.6 898.2 L828.8 898.2 L823.2 907.8 Z" fill="#3aa868"/><path d="M823.9 896.0 L835.1 896.0 L829.5 905.6 Z" fill="#3aa868"/>
<g clip-path="url(#cp11)">
<path d="M613.3 734.4 L615.3 736.3 L617.3 738.1 L619.3 740.0 L621.3 741.8 L623.3 743.6 L625.3 745.4 L627.3 747.2 L629.3 749.0 L631.4 750.8 L633.4 752.6 L635.4 754.4 L637.4 756.1 L639.4 757.9 L641.4 759.6 L643.4 761.4 L645.4 763.1 L647.4 764.8 L649.4 766.6 L651.4 768.3 L653.4 770.0 L655.4 771.6 L657.4 773.3 L659.4 775.0 L661.4 776.7 L663.4 778.3 L665.4 780.0 L667.5 781.6 L669.5 783.2 L671.5 784.8 L673.5 786.5 L675.5 788.1 L677.5 789.7 L679.5 791.2 L681.5 792.8 L683.5 794.4 L685.5 795.9 L687.5 797.5 L689.5 799.0 L691.5 800.6 L693.5 802.1 L695.5 803.6 L697.5 805.1 L699.5 806.6 L701.6 808.1 L703.6 809.6 L705.6 811.1 L707.6 812.5 L709.6 814.0 L711.6 815.4 L713.6 816.8 L715.6 818.3 L717.6 819.7 L719.6 821.1 L721.6 822.5 L723.6 823.9 L725.6 825.3 L727.6 826.6 L729.6 828.0 L731.6 829.4 L733.6 830.7 L735.6 832.1 L737.7 833.4 L739.7 834.7 L741.7 836.0 L743.7 837.3 L745.7 838.6 L747.7 839.9 L749.7 841.2 L751.7 842.4 L753.7 843.7 L755.7 844.9 L757.7 846.2 L759.7 847.4 L761.7 848.6 L763.7 849.8 L765.7 851.0 L767.7 852.2 L769.7 853.4 L771.7 854.6 L773.8 855.7 L775.8 856.9 L777.8 858.0 L779.8 859.2 L781.8 860.3 L783.8 861.4 L785.8 862.5 L787.8 863.6 L789.8 864.7 L791.8 865.8 L793.8 866.8 L795.8 867.9 L797.8 869.0 L799.8 870.0 L801.8 871.0 L803.8 872.1 L805.8 873.1 L807.9 874.1 L809.9 875.1 L811.9 876.1 L813.9 877.0 L815.9 878.0 L817.9 878.9 L819.9 879.9 L821.9 880.8 L823.9 881.8 L825.9 882.7 L827.9 883.6 L829.9 884.5 L831.9 885.4 L833.9 886.3 L835.9 887.1 L837.9 888.0 L839.9 888.8 L841.9 889.7 L844.0 890.5 L846.0 891.3 L848.0 892.1 L850.0 892.9 L852.0 893.7 L854.0 894.5 L856.0 895.3 L858.0 896.1 L860.0 896.8" fill="none" stroke="#800000" stroke-width="3.3"/>
</g>
<g clip-path="url(#cp11)">
<g fill="#800080"><circle cx="707.2" cy="691.3" r="1.9"/><circle cx="711.7" cy="701.0" r="1.9"/><circle cx="716.3" cy="710.7" r="1.9"/><circle cx="721.0" cy="720.3" r="1.9"/><circle cx="725.8" cy="729.8" r="1.9"/><circle cx="730.9" cy="739.3" r="1.9"/><circle cx="736.0" cy="748.6" r="1.9"/><circle cx="741.3" cy="757.9" r="1.9"/><circle cx="746.9" cy="767.1" r="1.9"/><circle cx="752.5" cy="776.1" r="1.9"/><circle cx="758.4" cy="785.1" r="1.9"/><circle cx="764.5" cy="793.9" r="1.9"/><circle cx="770.8" cy="802.5" r="1.9"/><circle cx="777.3" cy="811.0" r="1.9"/><circle cx="784.1" cy="819.3" r="1.9"/><circle cx="791.0" cy="827.4" r="1.9"/><circle cx="798.3" cy="835.3" r="1.9"/><circle cx="805.7" cy="843.0" r="1.9"/><circle cx="813.4" cy="850.4" r="1.9"/><circle cx="821.4" cy="857.6" r="1.9"/><circle cx="829.5" cy="864.5" r="1.9"/><circle cx="837.9" cy="871.1" r="1.9"/><circle cx="846.5" cy="877.5" r="1.9"/></g>
<path d="M618.1 785.5 L618.6 785.9 L619.1 786.3 L619.6 786.7 L620.1 787.2 L620.6 787.6 L621.1 788.0 L621.6 788.5 L622.1 788.9 L622.6 789.3 L623.1 789.7 L623.6 790.1 L624.1 790.6 L624.6 791.0 L625.1 791.4 M643.1 805.9 L643.6 806.2 L644.1 806.6 L644.6 807.0 L645.1 807.4 L645.6 807.8 L646.1 808.2 L646.6 808.5 L647.1 808.9 L647.6 809.3 L648.2 809.7 L648.7 810.0 L649.2 810.4 L649.7 810.8 L650.2 811.2 L650.7 811.5 M664.7 821.6 L665.2 822.0 L665.7 822.3 L666.2 822.7 L666.7 823.0 L667.2 823.4 L667.7 823.7 L668.2 824.1 L668.7 824.4 L669.2 824.7 L669.7 825.1 L670.2 825.4 L670.7 825.8 L671.2 826.1 L671.7 826.4 L672.2 826.8 L672.7 827.1 M687.7 836.8 L688.2 837.1 L688.7 837.4 L689.2 837.8 L689.7 838.1 L690.2 838.4 L690.7 838.7 L691.2 839.0 L691.7 839.3 L692.2 839.6 L692.7 839.9 L693.2 840.2 L693.7 840.5 L694.2 840.8 L694.7 841.1 L695.2 841.4 L695.7 841.7 M712.8 851.4 L713.3 851.7 L713.8 852.0 L714.3 852.2 L714.8 852.5 L715.3 852.8 L715.8 853.1 L716.3 853.3 L716.8 853.6 L717.3 853.9 L717.8 854.1 L718.3 854.4 L718.8 854.7 L719.3 854.9 L719.8 855.2 L720.3 855.4 L720.8 855.7 L721.3 856.0 M737.8 864.2 L738.3 864.4 L738.8 864.6 L739.3 864.9 L739.8 865.1 L740.3 865.4 L740.8 865.6 L741.3 865.8 L741.8 866.0 L742.3 866.3 L742.8 866.5 L743.3 866.7 L743.8 867.0 L744.3 867.2 L744.8 867.4 L745.3 867.7 L745.8 867.9 L746.3 868.1 M761.3 874.6 L761.8 874.8 L762.3 875.0 L762.8 875.2 L763.3 875.4 L763.8 875.6 L764.3 875.8 L764.8 876.0 L765.3 876.2 L765.8 876.4 L766.3 876.6 L766.8 876.8 L767.3 877.0 L767.8 877.2 L768.3 877.4 L768.8 877.6 L769.4 877.8 L769.9 878.0 L770.4 878.2 M787.4 884.4 L787.9 884.6 L788.4 884.8 L788.9 884.9 L789.4 885.1 L789.9 885.3 L790.4 885.4 L790.9 885.6 L791.4 885.8 L791.9 885.9 L792.4 886.1 L792.9 886.3 L793.4 886.4 L793.9 886.6 L794.4 886.8 L794.9 886.9 L795.4 887.1 L795.9 887.3 L796.4 887.4 M812.4 892.3 L812.9 892.5 L813.4 892.6 L813.9 892.8 L814.4 892.9 L814.9 893.1 L815.4 893.2 L815.9 893.3 L816.4 893.5 L816.9 893.6 L817.4 893.8 L817.9 893.9 L818.4 894.0 L818.9 894.2 L819.4 894.3 L819.9 894.4 L820.4 894.6 L820.9 894.7 L821.4 894.8" fill="none" stroke="#000" stroke-width="3.3" stroke-linecap="round"/>
</g>
<path d="M160.2 373.7 H558.6 M166.4 646.3 H558.6 M167.5 373.7 V649.8 M557.5 373.7 V653.3" stroke="#000" stroke-width="2.2" fill="none"/>
<path d="M167.5 621.4 h-7.3 M557.5 621.4 h-7.3 M167.5 590.4 h-3.7 M557.5 590.4 h-3.7 M167.5 559.5 h-7.3 M557.5 559.5 h-7.3 M167.5 528.5 h-3.7 M557.5 528.5 h-3.7 M167.5 497.5 h-7.3 M557.5 497.5 h-7.3 M167.5 466.6 h-3.7 M557.5 466.6 h-3.7 M167.5 435.6 h-7.3 M557.5 435.6 h-7.3 M167.5 404.7 h-3.7 M557.5 404.7 h-3.7 M171.9 646.3 v7.0 M171.9 373.7 v7.0 M200.9 646.3 v3.5 M200.9 373.7 v3.5 M217.9 646.3 v3.5 M217.9 373.7 v3.5 M229.9 646.3 v3.5 M229.9 373.7 v3.5 M239.3 646.3 v3.5 M239.3 373.7 v3.5 M246.9 646.3 v3.5 M246.9 373.7 v3.5 M253.4 646.3 v3.5 M253.4 373.7 v3.5 M259.0 646.3 v3.5 M259.0 373.7 v3.5 M263.9 646.3 v3.5 M263.9 373.7 v3.5 M268.3 646.3 v7.0 M268.3 373.7 v7.0 M297.3 646.3 v3.5 M297.3 373.7 v3.5 M314.3 646.3 v3.5 M314.3 373.7 v3.5 M326.3 646.3 v3.5 M326.3 373.7 v3.5 M335.7 646.3 v3.5 M335.7 373.7 v3.5 M343.3 646.3 v3.5 M343.3 373.7 v3.5 M349.8 646.3 v3.5 M349.8 373.7 v3.5 M355.4 646.3 v3.5 M355.4 373.7 v3.5 M360.3 646.3 v3.5 M360.3 373.7 v3.5 M364.7 646.3 v7.0 M364.7 373.7 v7.0 M393.7 646.3 v3.5 M393.7 373.7 v3.5 M410.7 646.3 v3.5 M410.7 373.7 v3.5 M422.7 646.3 v3.5 M422.7 373.7 v3.5 M432.1 646.3 v3.5 M432.1 373.7 v3.5 M439.7 646.3 v3.5 M439.7 373.7 v3.5 M446.2 646.3 v3.5 M446.2 373.7 v3.5 M451.8 646.3 v3.5 M451.8 373.7 v3.5 M456.7 646.3 v3.5 M456.7 373.7 v3.5 M461.1 646.3 v7.0 M461.1 373.7 v7.0 M490.1 646.3 v3.5 M490.1 373.7 v3.5 M507.1 646.3 v3.5 M507.1 373.7 v3.5 M519.1 646.3 v3.5 M519.1 373.7 v3.5 M528.5 646.3 v3.5 M528.5 373.7 v3.5 M536.1 646.3 v3.5 M536.1 373.7 v3.5 M542.6 646.3 v3.5 M542.6 373.7 v3.5 M548.2 646.3 v3.5 M548.2 373.7 v3.5 M553.1 646.3 v3.5 M553.1 373.7 v3.5" stroke="#000" stroke-width="2" fill="none"/>
<text x="155.0" y="625.2" font-size="15.2" text-anchor="end">0.0</text>
<text x="155.0" y="564.0" font-size="15.2" text-anchor="end">0.5</text>
<text x="155.0" y="502.3" font-size="15.2" text-anchor="end">1.0</text>
<text x="155.0" y="440.8" font-size="15.2" text-anchor="end">1.5</text>
<text x="155.0" y="377.8" font-size="15.2" text-anchor="end">2.0</text>
<text transform="translate(115.5 419.7) rotate(-90)" font-size="15.7" text-anchor="middle">F<tspan font-size="10" dy="3.5">L</tspan><tspan dy="-3.5">(x,Q</tspan><tspan font-size="10" dy="-6.5">2</tspan><tspan dy="6.5">)</tspan></text>
<path d="M160.2 685.3 H558.6 M166.4 957.6 H558.6 M167.5 685.3 V961.1 M557.5 685.3 V964.6" stroke="#000" stroke-width="2.2" fill="none"/>
<path d="M167.5 932.8 h-7.3 M557.5 932.8 h-7.3 M167.5 901.9 h-3.7 M557.5 901.9 h-3.7 M167.5 870.9 h-7.3 M557.5 870.9 h-7.3 M167.5 840.0 h-3.7 M557.5 840.0 h-3.7 M167.5 809.0 h-7.3 M557.5 809.0 h-7.3 M167.5 778.1 h-3.7 M557.5 778.1 h-3.7 M167.5 747.2 h-7.3 M557.5 747.2 h-7.3 M167.5 716.2 h-3.7 M557.5 716.2 h-3.7 M171.9 957.6 v7.0 M171.9 685.3 v7.0 M200.9 957.6 v3.5 M200.9 685.3 v3.5 M217.9 957.6 v3.5 M217.9 685.3 v3.5 M229.9 957.6 v3.5 M229.9 685.3 v3.5 M239.3 957.6 v3.5 M239.3 685.3 v3.5 M246.9 957.6 v3.5 M246.9 685.3 v3.5 M253.4 957.6 v3.5 M253.4 685.3 v3.5 M259.0 957.6 v3.5 M259.0 685.3 v3.5 M263.9 957.6 v3.5 M263.9 685.3 v3.5 M268.3 957.6 v7.0 M268.3 685.3 v7.0 M297.3 957.6 v3.5 M297.3 685.3 v3.5 M314.3 957.6 v3.5 M314.3 685.3 v3.5 M326.3 957.6 v3.5 M326.3 685.3 v3.5 M335.7 957.6 v3.5 M335.7 685.3 v3.5 M343.3 957.6 v3.5 M343.3 685.3 v3.5 M349.8 957.6 v3.5 M349.8 685.3 v3.5 M355.4 957.6 v3.5 M355.4 685.3 v3.5 M360.3 957.6 v3.5 M360.3 685.3 v3.5 M364.7 957.6 v7.0 M364.7 685.3 v7.0 M393.7 957.6 v3.5 M393.7 685.3 v3.5 M410.7 957.6 v3.5 M410.7 685.3 v3.5 M422.7 957.6 v3.5 M422.7 685.3 v3.5 M432.1 957.6 v3.5 M432.1 685.3 v3.5 M439.7 957.6 v3.5 M439.7 685.3 v3.5 M446.2 957.6 v3.5 M446.2 685.3 v3.5 M451.8 957.6 v3.5 M451.8 685.3 v3.5 M456.7 957.6 v3.5 M456.7 685.3 v3.5 M461.1 957.6 v7.0 M461.1 685.3 v7.0 M490.1 957.6 v3.5 M490.1 685.3 v3.5 M507.1 957.6 v3.5 M507.1 685.3 v3.5 M519.1 957.6 v3.5 M519.1 685.3 v3.5 M528.5 957.6 v3.5 M528.5 685.3 v3.5 M536.1 957.6 v3.5 M536.1 685.3 v3.5 M542.6 957.6 v3.5 M542.6 685.3 v3.5 M548.2 957.6 v3.5 M548.2 685.3 v3.5 M553.1 957.6 v3.5 M553.1 685.3 v3.5" stroke="#000" stroke-width="2" fill="none"/>
<text x="155.0" y="937.3" font-size="15.2" text-anchor="end">0.0</text>
<text x="155.0" y="875.4" font-size="15.2" text-anchor="end">0.5</text>
<text x="155.0" y="813.5" font-size="15.2" text-anchor="end">1.0</text>
<text x="155.0" y="751.7" font-size="15.2" text-anchor="end">1.5</text>
<text x="155.0" y="689.8" font-size="15.2" text-anchor="end">2.0</text>
<text transform="translate(115.5 722.8) rotate(-90)" font-size="15.7" text-anchor="middle">F<tspan font-size="10" dy="3.5">L</tspan><tspan dy="-3.5">(x,Q</tspan><tspan font-size="10" dy="-6.5">2</tspan><tspan dy="6.5">)</tspan></text>
<text x="172.3" y="986.0" font-size="17" text-anchor="middle">10<tspan font-size="11" dy="-7.2">-5</tspan></text>
<text x="268.7" y="986.0" font-size="17" text-anchor="middle">10<tspan font-size="11" dy="-7.2">-4</tspan></text>
<text x="365.1" y="986.0" font-size="17" text-anchor="middle">10<tspan font-size="11" dy="-7.2">-3</tspan></text>
<text x="461.5" y="986.0" font-size="17" text-anchor="middle">10<tspan font-size="11" dy="-7.2">-2</tspan></text>
<text x="557.9" y="986.0" font-size="17" text-anchor="middle">10<tspan font-size="11" dy="-7.2">-1</tspan></text>
<text x="362.8" y="1014.7" font-size="17" text-anchor="middle">x</text>
<path d="M606.1 373.7 H1004.3 M612.3 646.3 H1004.3 M613.4 373.7 V649.8 M1003.2 373.7 V653.3" stroke="#000" stroke-width="2.2" fill="none"/>
<path d="M613.4 621.4 h-7.3 M1003.2 621.4 h-7.3 M613.4 590.4 h-3.7 M1003.2 590.4 h-3.7 M613.4 559.5 h-7.3 M1003.2 559.5 h-7.3 M613.4 528.5 h-3.7 M1003.2 528.5 h-3.7 M613.4 497.5 h-7.3 M1003.2 497.5 h-7.3 M613.4 466.6 h-3.7 M1003.2 466.6 h-3.7 M613.4 435.6 h-7.3 M1003.2 435.6 h-7.3 M613.4 404.7 h-3.7 M1003.2 404.7 h-3.7 M617.6 646.3 v7.0 M617.6 373.7 v7.0 M646.6 646.3 v3.5 M646.6 373.7 v3.5 M663.6 646.3 v3.5 M663.6 373.7 v3.5 M675.6 646.3 v3.5 M675.6 373.7 v3.5 M685.0 646.3 v3.5 M685.0 373.7 v3.5 M692.6 646.3 v3.5 M692.6 373.7 v3.5 M699.1 646.3 v3.5 M699.1 373.7 v3.5 M704.7 646.3 v3.5 M704.7 373.7 v3.5 M709.6 646.3 v3.5 M709.6 373.7 v3.5 M714.0 646.3 v7.0 M714.0 373.7 v7.0 M743.0 646.3 v3.5 M743.0 373.7 v3.5 M760.0 646.3 v3.5 M760.0 373.7 v3.5 M772.0 646.3 v3.5 M772.0 373.7 v3.5 M781.4 646.3 v3.5 M781.4 373.7 v3.5 M789.0 646.3 v3.5 M789.0 373.7 v3.5 M795.5 646.3 v3.5 M795.5 373.7 v3.5 M801.1 646.3 v3.5 M801.1 373.7 v3.5 M806.0 646.3 v3.5 M806.0 373.7 v3.5 M810.4 646.3 v7.0 M810.4 373.7 v7.0 M839.4 646.3 v3.5 M839.4 373.7 v3.5 M856.4 646.3 v3.5 M856.4 373.7 v3.5 M868.4 646.3 v3.5 M868.4 373.7 v3.5 M877.8 646.3 v3.5 M877.8 373.7 v3.5 M885.4 646.3 v3.5 M885.4 373.7 v3.5 M891.9 646.3 v3.5 M891.9 373.7 v3.5 M897.5 646.3 v3.5 M897.5 373.7 v3.5 M902.4 646.3 v3.5 M902.4 373.7 v3.5 M906.8 646.3 v7.0 M906.8 373.7 v7.0 M935.8 646.3 v3.5 M935.8 373.7 v3.5 M952.8 646.3 v3.5 M952.8 373.7 v3.5 M964.8 646.3 v3.5 M964.8 373.7 v3.5 M974.2 646.3 v3.5 M974.2 373.7 v3.5 M981.8 646.3 v3.5 M981.8 373.7 v3.5 M988.3 646.3 v3.5 M988.3 373.7 v3.5 M993.9 646.3 v3.5 M993.9 373.7 v3.5 M998.8 646.3 v3.5 M998.8 373.7 v3.5" stroke="#000" stroke-width="2" fill="none"/>
<path d="M606.1 685.3 H1004.3 M612.3 957.6 H1004.3 M613.4 685.3 V961.1 M1003.2 685.3 V964.6" stroke="#000" stroke-width="2.2" fill="none"/>
<path d="M613.4 932.8 h-7.3 M1003.2 932.8 h-7.3 M613.4 901.9 h-3.7 M1003.2 901.9 h-3.7 M613.4 870.9 h-7.3 M1003.2 870.9 h-7.3 M613.4 840.0 h-3.7 M1003.2 840.0 h-3.7 M613.4 809.0 h-7.3 M1003.2 809.0 h-7.3 M613.4 778.1 h-3.7 M1003.2 778.1 h-3.7 M613.4 747.2 h-7.3 M1003.2 747.2 h-7.3 M613.4 716.2 h-3.7 M1003.2 716.2 h-3.7 M617.6 957.6 v7.0 M617.6 685.3 v7.0 M646.6 957.6 v3.5 M646.6 685.3 v3.5 M663.6 957.6 v3.5 M663.6 685.3 v3.5 M675.6 957.6 v3.5 M675.6 685.3 v3.5 M685.0 957.6 v3.5 M685.0 685.3 v3.5 M692.6 957.6 v3.5 M692.6 685.3 v3.5 M699.1 957.6 v3.5 M699.1 685.3 v3.5 M704.7 957.6 v3.5 M704.7 685.3 v3.5 M709.6 957.6 v3.5 M709.6 685.3 v3.5 M714.0 957.6 v7.0 M714.0 685.3 v7.0 M743.0 957.6 v3.5 M743.0 685.3 v3.5 M760.0 957.6 v3.5 M760.0 685.3 v3.5 M772.0 957.6 v3.5 M772.0 685.3 v3.5 M781.4 957.6 v3.5 M781.4 685.3 v3.5 M789.0 957.6 v3.5 M789.0 685.3 v3.5 M795.5 957.6 v3.5 M795.5 685.3 v3.5 M801.1 957.6 v3.5 M801.1 685.3 v3.5 M806.0 957.6 v3.5 M806.0 685.3 v3.5 M810.4 957.6 v7.0 M810.4 685.3 v7.0 M839.4 957.6 v3.5 M839.4 685.3 v3.5 M856.4 957.6 v3.5 M856.4 685.3 v3.5 M868.4 957.6 v3.5 M868.4 685.3 v3.5 M877.8 957.6 v3.5 M877.8 685.3 v3.5 M885.4 957.6 v3.5 M885.4 685.3 v3.5 M891.9 957.6 v3.5 M891.9 685.3 v3.5 M897.5 957.6 v3.5 M897.5 685.3 v3.5 M902.4 957.6 v3.5 M902.4 685.3 v3.5 M906.8 957.6 v7.0 M906.8 685.3 v7.0 M935.8 957.6 v3.5 M935.8 685.3 v3.5 M952.8 957.6 v3.5 M952.8 685.3 v3.5 M964.8 957.6 v3.5 M964.8 685.3 v3.5 M974.2 957.6 v3.5 M974.2 685.3 v3.5 M981.8 957.6 v3.5 M981.8 685.3 v3.5 M988.3 957.6 v3.5 M988.3 685.3 v3.5 M993.9 957.6 v3.5 M993.9 685.3 v3.5 M998.8 957.6 v3.5 M998.8 685.3 v3.5" stroke="#000" stroke-width="2" fill="none"/>
<text x="618.0" y="986.0" font-size="17" text-anchor="middle">10<tspan font-size="11" dy="-7.2">-5</tspan></text>
<text x="714.4" y="986.0" font-size="17" text-anchor="middle">10<tspan font-size="11" dy="-7.2">-4</tspan></text>
<text x="810.8" y="986.0" font-size="17" text-anchor="middle">10<tspan font-size="11" dy="-7.2">-3</tspan></text>
<text x="907.2" y="986.0" font-size="17" text-anchor="middle">10<tspan font-size="11" dy="-7.2">-2</tspan></text>
<text x="1003.6" y="986.0" font-size="17" text-anchor="middle">10<tspan font-size="11" dy="-7.2">-1</tspan></text>
<text x="808.6" y="1014.7" font-size="17" text-anchor="middle">x</text>
<rect x="371.6" y="382.2" width="163.1" height="139.1" fill="#fff" stroke="#dcdcdc" stroke-width="1"/>
<text x="444.8" y="400.4" font-size="14.8" text-anchor="middle">Q<tspan font-size="10.3" dy="-5.3">2</tspan><tspan dy="5.3">=5 GeV</tspan><tspan font-size="10.3" dy="-5.3">2</tspan></text>
<path d="M374 414.2 H407.2" stroke="#ff0000" stroke-width="3.2" stroke-linecap="round"/>
<rect x="412.6" y="406.4" width="33.4" height="15.6" fill="#ffff00" stroke="#707070" stroke-width="1"/>
<path d="M415 422 L430.7 406.9 M431.2 421.5 L445.5 407" stroke="#ff8000" stroke-width="2.1"/>
<text x="451.6" y="420.2" font-size="14.8">Laplace-LO</text>
<path d="M374 433.6 H407.2" stroke="#800000" stroke-width="3.2" stroke-linecap="round"/>
<text x="412.5" y="438.6" font-size="14.8">Mellin-LO</text>
<path d="M373.7 452.8 H400" stroke="#800080" stroke-width="3.5" stroke-dasharray="0.01 7.65" stroke-linecap="round"/>
<text x="412.5" y="458.2" font-size="14.8">CJ15-LO</text>
<path d="M374 472 H385 M406 472 H407.5" stroke="#000" stroke-width="3" stroke-linecap="round"/>
<text x="412.5" y="477.3" font-size="14.8">CJ15-NLO</text>
<path d="M384.1 495.0 L397.1 495.0 L390.6 484.5 Z" fill="#1f6fe0"/>
<text x="412.5" y="496.1" font-size="14.8">H1 2014</text>
<path d="M384.1 506.8 L397.1 506.8 L390.6 517.3 Z" fill="#3aa868"/>
<text x="412.5" y="515.4" font-size="14.8">H1 2011</text>
<rect x="446.4" y="696.4" width="80" height="22.1" fill="#fff" stroke="#e4e4e4" stroke-width="1"/>
<text x="486.4" y="712.4" font-size="13.8" text-anchor="middle">Q<tspan font-size="9.2" dy="-5.2">2</tspan><tspan dy="5.2">=25 GeV</tspan><tspan font-size="9.2" dy="-5.2">2</tspan></text>
</svg></body></html>
